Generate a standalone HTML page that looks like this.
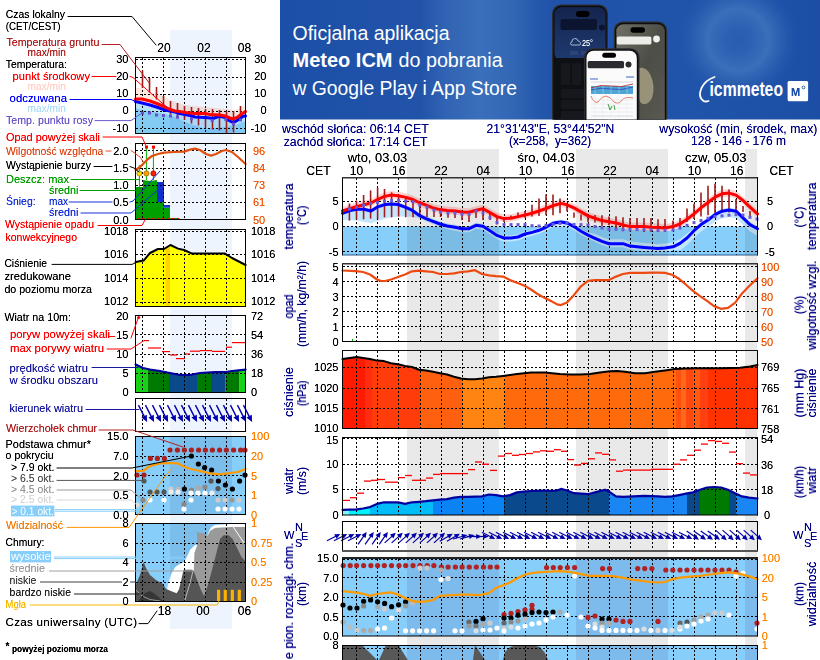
<!DOCTYPE html>
<html><head><meta charset="utf-8"><style>
html,body{margin:0;padding:0;background:#fff;}
svg{display:block;font-family:"Liberation Sans",sans-serif;}
</style></head><body>
<svg width="820" height="660" viewBox="0 0 820 660">
<rect width="820" height="660" fill="#ffffff"/>
<defs><filter id="sharp" x="-5%" y="-20%" width="110%" height="140%"><feComponentTransfer><feFuncA type="linear" slope="1.3" intercept="0"/></feComponentTransfer></filter></defs>
<rect x="170" y="30" width="62" height="599" fill="#eef4fd" />
<rect x="136" y="58" width="109" height="75" fill="#ffffff" />
<polygon points="135.5,88.0 142.0,88.0 150.0,92.0 158.0,94.0 165.0,97.0 170.0,100.0 185.0,105.0 205.0,107.0 225.0,109.0 235.0,110.0 245.5,106.0 245.5,118.5 241.0,121.5 237.0,124.5 233.0,126.0 230.0,125.0 225.0,123.0 220.0,122.0 210.0,121.5 205.0,120.5 195.0,120.5 185.0,119.5 180.0,118.5 175.0,118.0 170.0,116.5 165.0,114.0 158.0,111.0 150.0,108.0 142.0,106.0 135.5,106.0" fill="#fde6de" />
<polygon points="135.5,101.5 142.0,103.0 150.0,105.0 158.0,107.5 165.0,110.0 170.0,111.0 175.0,112.0 180.0,113.5 185.0,114.5 190.0,115.5 195.0,117.0 205.0,117.5 210.0,118.0 213.0,118.5 217.0,117.0 220.0,116.2 225.0,117.5 228.0,120.0 232.0,122.0 235.0,121.8 240.0,118.5 243.0,116.2 245.5,116.0 245.5,134.0 135.5,134.0" fill="#b8e2fa" />
<polygon points="135.5,108.0 142.0,110.0 150.0,111.0 160.0,113.0 165.0,114.0 175.0,117.0 185.0,122.0 195.0,125.5 205.0,128.5 215.0,128.0 225.0,127.0 235.0,125.0 245.5,121.0 245.5,134.0 135.5,134.0" fill="#84cbf4" />
<rect x="170" y="58" width="62" height="75" fill="#eef4fd" style="mix-blend-mode:multiply"/>
<line x1="136" y1="59.5" x2="245" y2="59.5" stroke="#000" stroke-width="1" stroke-dasharray="2,2" shape-rendering="crispEdges"/>
<line x1="136" y1="77.5" x2="245" y2="77.5" stroke="#000" stroke-width="1" stroke-dasharray="2,2" shape-rendering="crispEdges"/>
<line x1="136" y1="94.5" x2="245" y2="94.5" stroke="#000" stroke-width="1" stroke-dasharray="2,2" shape-rendering="crispEdges"/>
<line x1="136" y1="111.5" x2="245" y2="111.5" stroke="#000" stroke-width="1" stroke-dasharray="2,2" shape-rendering="crispEdges"/>
<line x1="136" y1="128.5" x2="245" y2="128.5" stroke="#000" stroke-width="1" stroke-dasharray="2,2" shape-rendering="crispEdges"/>
<line x1="142.5" y1="58" x2="142.5" y2="133" stroke="#000" stroke-width="1" stroke-dasharray="2,2" shape-rendering="crispEdges"/>
<line x1="163.5" y1="58" x2="163.5" y2="133" stroke="#000" stroke-width="1" stroke-dasharray="2,2" shape-rendering="crispEdges"/>
<line x1="184.5" y1="58" x2="184.5" y2="133" stroke="#000" stroke-width="1" stroke-dasharray="2,2" shape-rendering="crispEdges"/>
<line x1="205.5" y1="58" x2="205.5" y2="133" stroke="#000" stroke-width="1" stroke-dasharray="2,2" shape-rendering="crispEdges"/>
<line x1="226.5" y1="58" x2="226.5" y2="133" stroke="#000" stroke-width="1" stroke-dasharray="2,2" shape-rendering="crispEdges"/>
<line x1="142.5" y1="70.5" x2="142.5" y2="88" stroke="#a01c1c" stroke-width="1.6" />
<line x1="149.5" y1="78" x2="149.5" y2="92.5" stroke="#a01c1c" stroke-width="1.6" />
<line x1="156.5" y1="87" x2="156.5" y2="99.5" stroke="#a01c1c" stroke-width="1.6" />
<line x1="163.5" y1="96" x2="163.5" y2="106" stroke="#a01c1c" stroke-width="1.6" />
<line x1="170.5" y1="101" x2="170.5" y2="114.5" stroke="#a01c1c" stroke-width="1.6" />
<line x1="177.5" y1="103" x2="177.5" y2="118.5" stroke="#a01c1c" stroke-width="1.6" />
<line x1="184.5" y1="106" x2="184.5" y2="120" stroke="#a01c1c" stroke-width="1.6" />
<line x1="191.5" y1="107" x2="191.5" y2="123.5" stroke="#a01c1c" stroke-width="1.6" />
<line x1="198.5" y1="108" x2="198.5" y2="125.5" stroke="#a01c1c" stroke-width="1.6" />
<line x1="205.5" y1="109" x2="205.5" y2="127.5" stroke="#a01c1c" stroke-width="1.6" />
<line x1="212.5" y1="109" x2="212.5" y2="129.5" stroke="#a01c1c" stroke-width="1.6" />
<line x1="219.5" y1="110" x2="219.5" y2="130.5" stroke="#a01c1c" stroke-width="1.6" />
<line x1="226.5" y1="111" x2="226.5" y2="133" stroke="#a01c1c" stroke-width="1.6" />
<line x1="233.5" y1="111" x2="233.5" y2="132.5" stroke="#a01c1c" stroke-width="1.6" />
<line x1="240.5" y1="106" x2="240.5" y2="120" stroke="#a01c1c" stroke-width="1.6" />
<polyline points="135.5,101.5 142.0,103.0 150.0,105.0 158.0,107.5 165.0,110.0 170.0,111.0 175.0,112.0 180.0,113.5 185.0,114.5 190.0,115.5 195.0,117.0 205.0,117.5 210.0,118.0 213.0,118.5 217.0,117.0 220.0,116.2 225.0,117.5 228.0,120.0 232.0,122.0 235.0,121.8 240.0,118.5 243.0,116.2 245.5,116.0" stroke="#0000ff" stroke-width="3" fill="none" stroke-linejoin="round" stroke-linecap="round" />
<polyline points="135.5,99.0 142.0,99.0 150.0,101.0 158.0,104.0 165.0,107.0 170.0,109.5 175.0,111.0 180.0,111.5 185.0,112.5 195.0,113.5 205.0,113.5 210.0,114.5 220.0,115.0 225.0,116.0 230.0,118.0 233.0,119.0 237.0,117.5 241.0,114.5 245.5,111.5" stroke="#ff0000" stroke-width="3" fill="none" stroke-linejoin="round" stroke-linecap="round" />
<rect x="141.0" y="111.5" width="3" height="3" fill="#6a50d0" />
<rect x="148.0" y="111.5" width="3" height="3" fill="#6a50d0" />
<rect x="155.0" y="113.5" width="3" height="3" fill="#6a50d0" />
<rect x="162.0" y="114.0" width="3" height="3" fill="#6a50d0" />
<rect x="169.0" y="114.5" width="3" height="3" fill="#6a50d0" />
<rect x="176.0" y="115.5" width="3" height="3" fill="#6a50d0" />
<rect x="190.0" y="117.3" width="3" height="3" fill="#6a50d0" />
<rect x="210.7" y="119.0" width="3" height="3" fill="#6a50d0" />
<rect x="224.4" y="118.1" width="3" height="3" fill="#6a50d0" />
<rect x="232.0" y="122.5" width="3" height="3" fill="#6a50d0" />
<rect x="239.0" y="118.5" width="3" height="3" fill="#6a50d0" />
<rect x="135.5" y="57.5" width="110" height="76" fill="none" stroke="#000" stroke-width="1" shape-rendering="crispEdges"/>
<polygon points="135.6,187.0 143.0,187.0 143.0,180.0 150.0,181.0 157.0,180.0 157.0,202.0 164.0,202.0 164.0,207.6 170.0,207.6 170.0,218.0 177.0,218.0 177.0,219.6 135.6,219.6" fill="#00a000" />
<rect x="157" y="182" width="7" height="20" fill="#1030d0" />
<rect x="164" y="205" width="6" height="2.6" fill="#1030d0" />
<line x1="136" y1="150.5" x2="245" y2="150.5" stroke="#000" stroke-width="1" stroke-dasharray="2,2" shape-rendering="crispEdges"/>
<line x1="136" y1="168.5" x2="245" y2="168.5" stroke="#000" stroke-width="1" stroke-dasharray="2,2" shape-rendering="crispEdges"/>
<line x1="136" y1="185.5" x2="245" y2="185.5" stroke="#000" stroke-width="1" stroke-dasharray="2,2" shape-rendering="crispEdges"/>
<line x1="136" y1="202.5" x2="245" y2="202.5" stroke="#000" stroke-width="1" stroke-dasharray="2,2" shape-rendering="crispEdges"/>
<line x1="142.5" y1="144" x2="142.5" y2="219" stroke="#000" stroke-width="1" stroke-dasharray="2,2" shape-rendering="crispEdges"/>
<line x1="163.5" y1="144" x2="163.5" y2="219" stroke="#000" stroke-width="1" stroke-dasharray="2,2" shape-rendering="crispEdges"/>
<line x1="184.5" y1="144" x2="184.5" y2="219" stroke="#000" stroke-width="1" stroke-dasharray="2,2" shape-rendering="crispEdges"/>
<line x1="205.5" y1="144" x2="205.5" y2="219" stroke="#000" stroke-width="1" stroke-dasharray="2,2" shape-rendering="crispEdges"/>
<line x1="226.5" y1="144" x2="226.5" y2="219" stroke="#000" stroke-width="1" stroke-dasharray="2,2" shape-rendering="crispEdges"/>
<line x1="139.4" y1="165" x2="139.4" y2="187" stroke="#00b000" stroke-width="1" />
<line x1="146.4" y1="148" x2="146.4" y2="180" stroke="#00b000" stroke-width="1" />
<line x1="153.4" y1="148" x2="153.4" y2="180" stroke="#00b000" stroke-width="1" />
<polyline points="135.6,170.0 140.0,167.0 144.0,163.0 148.0,159.0 152.0,156.0 158.0,154.0 164.0,152.6 174.0,152.0 184.0,151.6 190.0,149.6 195.0,148.6 200.0,150.0 206.0,154.0 211.0,155.6 216.0,154.0 222.0,151.0 226.0,150.0 232.0,152.0 238.0,157.0 245.6,164.0" stroke="#e05010" stroke-width="2.2" fill="none" stroke-linejoin="round" stroke-linecap="round" />
<circle cx="139.4" cy="173.4" r="2.6" fill="#ffe000" stroke="#806000" stroke-width="0.6"/>
<circle cx="146.4" cy="173.4" r="2.6" fill="#ffa000" stroke="#806000" stroke-width="0.6"/>
<circle cx="153.4" cy="173.4" r="2.6" fill="#ff2000" stroke="#800000" stroke-width="0.6"/>
<rect x="145" y="145.6" width="3" height="3" fill="#ff0000" />
<rect x="152" y="145.6" width="3" height="3" fill="#ff0000" />
<line x1="137" y1="218.5" x2="139.5" y2="218.5" stroke="#ff0000" stroke-width="1.2" />
<line x1="142" y1="218.5" x2="144.5" y2="218.5" stroke="#ff0000" stroke-width="1.2" />
<line x1="147" y1="218.5" x2="149.5" y2="218.5" stroke="#ff0000" stroke-width="1.2" />
<line x1="152" y1="218.5" x2="154.5" y2="218.5" stroke="#ff0000" stroke-width="1.2" />
<line x1="157" y1="218.5" x2="159.5" y2="218.5" stroke="#ff0000" stroke-width="1.2" />
<line x1="162" y1="218.5" x2="164.5" y2="218.5" stroke="#ff0000" stroke-width="1.2" />
<line x1="167" y1="218.5" x2="169.5" y2="218.5" stroke="#ff0000" stroke-width="1.2" />
<line x1="172" y1="218.5" x2="174.5" y2="218.5" stroke="#ff0000" stroke-width="1.2" />
<line x1="177" y1="218.5" x2="179.5" y2="218.5" stroke="#ff0000" stroke-width="1.2" />
<rect x="135.5" y="143.5" width="110" height="76" fill="none" stroke="#000" stroke-width="1" shape-rendering="crispEdges"/>
<polygon points="135.6,262.0 143.6,260.6 150.0,253.0 158.0,249.0 164.0,249.0 170.4,245.0 178.0,248.6 184.0,250.0 192.0,253.6 225.0,253.6 232.0,258.0 245.6,265.0 245.6,306.0 135.6,306.0" fill="#ffff00" />
<rect x="165.5" y="247" width="4.5" height="59" fill="#ffd400" />
<line x1="136" y1="231.5" x2="245" y2="231.5" stroke="#000" stroke-width="1" stroke-dasharray="2,2" shape-rendering="crispEdges"/>
<line x1="136" y1="254.5" x2="245" y2="254.5" stroke="#000" stroke-width="1" stroke-dasharray="2,2" shape-rendering="crispEdges"/>
<line x1="136" y1="278.5" x2="245" y2="278.5" stroke="#000" stroke-width="1" stroke-dasharray="2,2" shape-rendering="crispEdges"/>
<line x1="136" y1="302.5" x2="245" y2="302.5" stroke="#000" stroke-width="1" stroke-dasharray="2,2" shape-rendering="crispEdges"/>
<line x1="142.5" y1="230" x2="142.5" y2="306" stroke="#000" stroke-width="1" stroke-dasharray="2,2" shape-rendering="crispEdges"/>
<line x1="163.5" y1="230" x2="163.5" y2="306" stroke="#000" stroke-width="1" stroke-dasharray="2,2" shape-rendering="crispEdges"/>
<line x1="184.5" y1="230" x2="184.5" y2="306" stroke="#000" stroke-width="1" stroke-dasharray="2,2" shape-rendering="crispEdges"/>
<line x1="205.5" y1="230" x2="205.5" y2="306" stroke="#000" stroke-width="1" stroke-dasharray="2,2" shape-rendering="crispEdges"/>
<line x1="226.5" y1="230" x2="226.5" y2="306" stroke="#000" stroke-width="1" stroke-dasharray="2,2" shape-rendering="crispEdges"/>
<polyline points="135.6,262.0 143.6,260.6 150.0,253.0 158.0,249.0 164.0,249.0 170.4,245.0 178.0,248.6 184.0,250.0 192.0,253.6 225.0,253.6 232.0,258.0 245.6,265.0" stroke="#000" stroke-width="2" fill="none" stroke-linejoin="round" stroke-linecap="round" />
<rect x="135.5" y="229.5" width="110" height="77" fill="none" stroke="#000" stroke-width="1" shape-rendering="crispEdges"/>
<polygon points="135.6,364.4 143.0,368.0 148.0,369.1 148.0,392.0 135.6,392.0" fill="#18d018" />
<polygon points="148.0,369.1 150.0,369.5 160.0,371.0 169.0,372.8 169.0,392.0 148.0,392.0" fill="#007a00" />
<polygon points="169.0,372.8 170.0,373.0 180.0,375.0 190.0,375.0 197.0,373.6 197.0,392.0 169.0,392.0" fill="#0a4a8a" />
<polygon points="197.0,373.6 200.0,373.0 211.0,372.3 211.0,392.0 197.0,392.0" fill="#007a00" />
<polygon points="211.0,372.3 215.0,372.0 225.6,372.0 225.6,392.0 211.0,392.0" fill="#0a4a8a" />
<polygon points="225.6,372.0 226.0,372.0 232.0,371.0 239.6,370.2 239.6,392.0 225.6,392.0" fill="#007a00" />
<polygon points="239.6,370.2 245.6,369.6 245.6,392.0 239.6,392.0" fill="#18d018" />
<line x1="136" y1="334.5" x2="245" y2="334.5" stroke="#000" stroke-width="1" stroke-dasharray="2,2" shape-rendering="crispEdges"/>
<line x1="136" y1="354.5" x2="245" y2="354.5" stroke="#000" stroke-width="1" stroke-dasharray="2,2" shape-rendering="crispEdges"/>
<line x1="136" y1="373.5" x2="245" y2="373.5" stroke="#000" stroke-width="1" stroke-dasharray="2,2" shape-rendering="crispEdges"/>
<line x1="142.5" y1="316" x2="142.5" y2="392" stroke="#000" stroke-width="1" stroke-dasharray="2,2" shape-rendering="crispEdges"/>
<line x1="163.5" y1="316" x2="163.5" y2="392" stroke="#000" stroke-width="1" stroke-dasharray="2,2" shape-rendering="crispEdges"/>
<line x1="184.5" y1="316" x2="184.5" y2="392" stroke="#000" stroke-width="1" stroke-dasharray="2,2" shape-rendering="crispEdges"/>
<line x1="205.5" y1="316" x2="205.5" y2="392" stroke="#000" stroke-width="1" stroke-dasharray="2,2" shape-rendering="crispEdges"/>
<line x1="226.5" y1="316" x2="226.5" y2="392" stroke="#000" stroke-width="1" stroke-dasharray="2,2" shape-rendering="crispEdges"/>
<polyline points="135.6,364.4 143.0,368.0 150.0,369.5 160.0,371.0 170.0,373.0 180.0,375.0 190.0,375.0 200.0,373.0 215.0,372.0 226.0,372.0 232.0,371.0 245.6,369.6" stroke="#0000a0" stroke-width="2.2" fill="none" stroke-linejoin="round" stroke-linecap="round" />
<line x1="144" y1="340.6" x2="149" y2="340.6" stroke="#ff0000" stroke-width="1.2" />
<line x1="148" y1="348" x2="161" y2="348" stroke="#ff0000" stroke-width="1.2" />
<line x1="162" y1="351.6" x2="170" y2="351.6" stroke="#ff0000" stroke-width="1.2" />
<line x1="170" y1="355" x2="177" y2="355" stroke="#ff0000" stroke-width="1.2" />
<line x1="176" y1="358.6" x2="185" y2="358.6" stroke="#ff0000" stroke-width="1.2" />
<line x1="185" y1="354" x2="190" y2="354" stroke="#ff0000" stroke-width="1.2" />
<line x1="190" y1="351.2" x2="200" y2="351.2" stroke="#ff0000" stroke-width="1.2" />
<line x1="200" y1="350.6" x2="212" y2="350.6" stroke="#ff0000" stroke-width="1.2" />
<line x1="212" y1="351.4" x2="225" y2="351.4" stroke="#ff0000" stroke-width="1.2" />
<line x1="226" y1="347.2" x2="232" y2="347.2" stroke="#ff0000" stroke-width="1.2" />
<line x1="232" y1="342.6" x2="245.6" y2="342.6" stroke="#ff0000" stroke-width="1.2" />
<rect x="135.5" y="315.5" width="110" height="77" fill="none" stroke="#000" stroke-width="1" shape-rendering="crispEdges"/>
<line x1="142.5" y1="399" x2="142.5" y2="431" stroke="#000" stroke-width="1" stroke-dasharray="2,2" shape-rendering="crispEdges"/>
<line x1="163.5" y1="399" x2="163.5" y2="431" stroke="#000" stroke-width="1" stroke-dasharray="2,2" shape-rendering="crispEdges"/>
<line x1="184.5" y1="399" x2="184.5" y2="431" stroke="#000" stroke-width="1" stroke-dasharray="2,2" shape-rendering="crispEdges"/>
<line x1="205.5" y1="399" x2="205.5" y2="431" stroke="#000" stroke-width="1" stroke-dasharray="2,2" shape-rendering="crispEdges"/>
<line x1="226.5" y1="399" x2="226.5" y2="431" stroke="#000" stroke-width="1" stroke-dasharray="2,2" shape-rendering="crispEdges"/>
<g transform="translate(143,414) rotate(63)"><line x1="-10" y1="0" x2="4" y2="0" stroke="#0000b0" stroke-width="1.4"/><polygon points="9,0 2.5,-3 2.5,3" fill="#0000b0"/></g>
<g transform="translate(150,414) rotate(63)"><line x1="-10" y1="0" x2="4" y2="0" stroke="#0000b0" stroke-width="1.4"/><polygon points="9,0 2.5,-3 2.5,3" fill="#0000b0"/></g>
<g transform="translate(157,414) rotate(63)"><line x1="-10" y1="0" x2="4" y2="0" stroke="#0000b0" stroke-width="1.4"/><polygon points="9,0 2.5,-3 2.5,3" fill="#0000b0"/></g>
<g transform="translate(164,414) rotate(63)"><line x1="-10" y1="0" x2="4" y2="0" stroke="#0000b0" stroke-width="1.4"/><polygon points="9,0 2.5,-3 2.5,3" fill="#0000b0"/></g>
<g transform="translate(172,414) rotate(63)"><line x1="-10" y1="0" x2="4" y2="0" stroke="#0000b0" stroke-width="1.4"/><polygon points="9,0 2.5,-3 2.5,3" fill="#0000b0"/></g>
<g transform="translate(179,414) rotate(63)"><line x1="-10" y1="0" x2="4" y2="0" stroke="#0000b0" stroke-width="1.4"/><polygon points="9,0 2.5,-3 2.5,3" fill="#0000b0"/></g>
<g transform="translate(186,414) rotate(63)"><line x1="-10" y1="0" x2="4" y2="0" stroke="#0000b0" stroke-width="1.4"/><polygon points="9,0 2.5,-3 2.5,3" fill="#0000b0"/></g>
<g transform="translate(193,414) rotate(63)"><line x1="-10" y1="0" x2="4" y2="0" stroke="#0000b0" stroke-width="1.4"/><polygon points="9,0 2.5,-3 2.5,3" fill="#0000b0"/></g>
<g transform="translate(200,414) rotate(63)"><line x1="-10" y1="0" x2="4" y2="0" stroke="#0000b0" stroke-width="1.4"/><polygon points="9,0 2.5,-3 2.5,3" fill="#0000b0"/></g>
<g transform="translate(207,414) rotate(63)"><line x1="-10" y1="0" x2="4" y2="0" stroke="#0000b0" stroke-width="1.4"/><polygon points="9,0 2.5,-3 2.5,3" fill="#0000b0"/></g>
<g transform="translate(214,414) rotate(63)"><line x1="-10" y1="0" x2="4" y2="0" stroke="#0000b0" stroke-width="1.4"/><polygon points="9,0 2.5,-3 2.5,3" fill="#0000b0"/></g>
<g transform="translate(221,414) rotate(63)"><line x1="-10" y1="0" x2="4" y2="0" stroke="#0000b0" stroke-width="1.4"/><polygon points="9,0 2.5,-3 2.5,3" fill="#0000b0"/></g>
<g transform="translate(228,414) rotate(63)"><line x1="-10" y1="0" x2="4" y2="0" stroke="#0000b0" stroke-width="1.4"/><polygon points="9,0 2.5,-3 2.5,3" fill="#0000b0"/></g>
<g transform="translate(235,414) rotate(63)"><line x1="-10" y1="0" x2="4" y2="0" stroke="#0000b0" stroke-width="1.4"/><polygon points="9,0 2.5,-3 2.5,3" fill="#0000b0"/></g>
<g transform="translate(242,414) rotate(63)"><line x1="-10" y1="0" x2="4" y2="0" stroke="#0000b0" stroke-width="1.4"/><polygon points="9,0 2.5,-3 2.5,3" fill="#0000b0"/></g>
<g transform="translate(248,414) rotate(63)"><line x1="-10" y1="0" x2="4" y2="0" stroke="#0000b0" stroke-width="1.4"/><polygon points="9,0 2.5,-3 2.5,3" fill="#0000b0"/></g>
<rect x="135.5" y="398.5" width="110" height="33" fill="none" stroke="#000" stroke-width="1" shape-rendering="crispEdges"/>
<rect x="136" y="437" width="109" height="77" fill="#87cefa" />
<rect x="170" y="437" width="62" height="77" fill="#eaebf0" style="mix-blend-mode:multiply"/>
<line x1="136" y1="456.5" x2="245" y2="456.5" stroke="#000" stroke-width="1" stroke-dasharray="2,2" shape-rendering="crispEdges"/>
<line x1="136" y1="475.5" x2="245" y2="475.5" stroke="#000" stroke-width="1" stroke-dasharray="2,2" shape-rendering="crispEdges"/>
<line x1="136" y1="495.5" x2="245" y2="495.5" stroke="#000" stroke-width="1" stroke-dasharray="2,2" shape-rendering="crispEdges"/>
<line x1="142.5" y1="437" x2="142.5" y2="514" stroke="#000" stroke-width="1" stroke-dasharray="2,2" shape-rendering="crispEdges"/>
<line x1="163.5" y1="437" x2="163.5" y2="514" stroke="#000" stroke-width="1" stroke-dasharray="2,2" shape-rendering="crispEdges"/>
<line x1="184.5" y1="437" x2="184.5" y2="514" stroke="#000" stroke-width="1" stroke-dasharray="2,2" shape-rendering="crispEdges"/>
<line x1="205.5" y1="437" x2="205.5" y2="514" stroke="#000" stroke-width="1" stroke-dasharray="2,2" shape-rendering="crispEdges"/>
<line x1="226.5" y1="437" x2="226.5" y2="514" stroke="#000" stroke-width="1" stroke-dasharray="2,2" shape-rendering="crispEdges"/>
<circle cx="170.0" cy="450.0" r="2.6" fill="#a82020" />
<circle cx="177.4" cy="450.0" r="2.6" fill="#a82020" />
<circle cx="184.4" cy="450.0" r="2.6" fill="#a82020" />
<circle cx="191.4" cy="450.0" r="2.6" fill="#a82020" />
<circle cx="198.6" cy="450.0" r="2.6" fill="#a82020" />
<circle cx="205.4" cy="450.0" r="2.6" fill="#a82020" />
<circle cx="212.4" cy="450.0" r="2.6" fill="#a82020" />
<circle cx="219.6" cy="450.0" r="2.6" fill="#a82020" />
<circle cx="226.4" cy="450.0" r="2.6" fill="#a82020" />
<circle cx="233.6" cy="450.0" r="2.6" fill="#a82020" />
<circle cx="240.6" cy="450.0" r="2.6" fill="#a82020" />
<circle cx="245.0" cy="450.0" r="2.6" fill="#a82020" />
<circle cx="150.4" cy="458.4" r="2.6" fill="#a82020" />
<circle cx="157.4" cy="458.4" r="2.6" fill="#a82020" />
<circle cx="164.4" cy="458.4" r="2.6" fill="#a82020" />
<circle cx="137.0" cy="475.0" r="2.6" fill="#a82020" />
<circle cx="144.0" cy="475.0" r="2.6" fill="#a82020" />
<circle cx="191.4" cy="456.0" r="2.6" fill="#000" />
<circle cx="198.4" cy="464.0" r="2.6" fill="#000" />
<circle cx="204.6" cy="467.6" r="2.6" fill="#000" />
<circle cx="211.6" cy="470.0" r="2.6" fill="#000" />
<circle cx="218.4" cy="481.0" r="2.6" fill="#000" />
<circle cx="225.4" cy="485.0" r="2.6" fill="#000" />
<circle cx="232.4" cy="489.0" r="2.6" fill="#000" />
<circle cx="239.6" cy="481.0" r="2.6" fill="#000" />
<circle cx="245.0" cy="475.0" r="2.6" fill="#000" />
<circle cx="144.0" cy="481.0" r="2.6" fill="#555" />
<circle cx="150.0" cy="492.0" r="2.6" fill="#555" />
<circle cx="157.0" cy="492.0" r="2.6" fill="#555" />
<circle cx="164.0" cy="492.0" r="2.6" fill="#555" />
<circle cx="171.0" cy="489.0" r="2.6" fill="#ccc" />
<circle cx="178.0" cy="489.0" r="2.6" fill="#bbb" />
<circle cx="184.4" cy="489.0" r="2.6" fill="#000" />
<circle cx="191.5" cy="490.0" r="2.6" fill="#888" />
<circle cx="198.5" cy="488.0" r="2.6" fill="#aaa" />
<circle cx="205.0" cy="487.0" r="2.6" fill="#888" />
<circle cx="211.0" cy="481.0" r="2.6" fill="#555" />
<circle cx="218.0" cy="488.6" r="2.6" fill="#555" />
<circle cx="171.0" cy="492.0" r="2.6" fill="#eee" />
<circle cx="178.0" cy="492.0" r="2.6" fill="#eee" />
<circle cx="191.0" cy="493.0" r="2.6" fill="#fff" />
<circle cx="198.0" cy="493.0" r="2.6" fill="#fff" />
<circle cx="205.0" cy="493.0" r="2.6" fill="#fff" />
<circle cx="212.0" cy="493.0" r="2.6" fill="#eee" />
<circle cx="150.0" cy="500.0" r="2.6" fill="#fff" />
<circle cx="164.0" cy="500.0" r="2.6" fill="#fff" />
<circle cx="191.0" cy="500.0" r="2.6" fill="#fff" />
<circle cx="184.0" cy="504.0" r="2.6" fill="#888" />
<circle cx="184.0" cy="509.0" r="2.6" fill="#fff" />
<circle cx="218.0" cy="500.0" r="2.6" fill="#ccc" />
<circle cx="225.0" cy="500.0" r="2.6" fill="#ccc" />
<circle cx="232.0" cy="500.0" r="2.6" fill="#999" />
<circle cx="239.0" cy="500.0" r="2.6" fill="#ccc" />
<circle cx="218.0" cy="509.0" r="2.6" fill="#fff" />
<circle cx="225.0" cy="509.0" r="2.6" fill="#fff" />
<circle cx="232.0" cy="509.0" r="2.6" fill="#fff" />
<circle cx="239.0" cy="509.0" r="2.6" fill="#fff" />
<circle cx="137.0" cy="505.0" r="2.6" fill="#ddd" />
<circle cx="143.0" cy="500.0" r="2.6" fill="#888" />
<polyline points="135.6,471.0 143.0,471.0 150.0,466.0 160.0,463.4 170.0,463.0 178.0,463.4 185.0,467.0 191.0,469.0 200.0,471.0 210.0,473.4 220.0,474.4 230.0,473.0 238.0,472.0 245.6,469.0" stroke="#ff9900" stroke-width="2.2" fill="none" stroke-linejoin="round" stroke-linecap="round" />
<rect x="135.5" y="436.5" width="110" height="78" fill="none" stroke="#000" stroke-width="1" shape-rendering="crispEdges"/>
<rect x="136" y="524" width="109" height="77" fill="#87cefa" />
<rect x="170" y="524" width="62" height="77" fill="#eaebf0" style="mix-blend-mode:multiply"/>
<polygon points="165.7,601.0 167.6,586.0 171.5,573.5 175.3,567.0 179.0,564.6 184.0,562.0 186.8,557.0 190.0,550.0 194.4,545.5 198.2,544.2 203.3,543.6 206.5,539.0 208.4,532.7 211.0,527.6 214.8,525.0 221.0,524.5 231.3,524.0 245.0,524.0 245.0,601.0" fill="#ffffff" />
<polygon points="190.0,601.0 192.0,585.0 193.8,571.0 194.4,553.0 197.0,546.0 197.0,531.5 200.0,533.0 204.0,533.5 207.5,536.0 210.0,531.0 214.8,528.0 221.0,527.5 231.3,527.0 245.0,527.0 245.0,601.0" fill="#9a9a9a" />
<polygon points="135.6,585.0 140.0,575.0 143.6,562.0 146.0,568.0 150.0,575.0 156.0,580.0 163.0,584.0 165.7,588.8 170.2,590.7 176.6,593.2 179.0,589.4 183.6,569.7 191.8,569.7 193.8,571.0 197.0,580.0 201.0,590.0 204.0,596.0 208.0,585.0 212.0,570.0 216.0,554.4 220.0,539.0 223.7,535.3 228.8,535.3 232.6,539.0 237.7,549.3 241.5,557.0 245.0,560.8 245.0,601.0 135.6,601.0" fill="#555555" />
<polygon points="138.0,601.0 145.0,593.0 150.0,591.0 155.0,594.0 163.0,601.0" fill="#363636" />
<polyline points="136.0,590.0 142.0,596.0 150.0,599.5 160.0,601.0" stroke="#b0b0b0" stroke-width="0.8" fill="none" stroke-linejoin="round" stroke-linecap="round" />
<polyline points="184.8,600.5 190.0,583.0 193.0,571.0" stroke="#cfcfcf" stroke-width="0.8" fill="none" stroke-linejoin="round" stroke-linecap="round" />
<polyline points="231.3,524.0 236.0,531.0 240.0,537.0 244.5,543.6" stroke="#ffffff" stroke-width="1" fill="none" stroke-linejoin="round" stroke-linecap="round" />
<line x1="136" y1="543.5" x2="245" y2="543.5" stroke="#000" stroke-width="1" stroke-dasharray="2,2" shape-rendering="crispEdges"/>
<line x1="136" y1="562.5" x2="245" y2="562.5" stroke="#000" stroke-width="1" stroke-dasharray="2,2" shape-rendering="crispEdges"/>
<line x1="136" y1="582.5" x2="245" y2="582.5" stroke="#000" stroke-width="1" stroke-dasharray="2,2" shape-rendering="crispEdges"/>
<line x1="142.5" y1="524" x2="142.5" y2="601" stroke="#000" stroke-width="1" stroke-dasharray="2,2" shape-rendering="crispEdges"/>
<line x1="163.5" y1="524" x2="163.5" y2="601" stroke="#000" stroke-width="1" stroke-dasharray="2,2" shape-rendering="crispEdges"/>
<line x1="184.5" y1="524" x2="184.5" y2="601" stroke="#000" stroke-width="1" stroke-dasharray="2,2" shape-rendering="crispEdges"/>
<line x1="205.5" y1="524" x2="205.5" y2="601" stroke="#000" stroke-width="1" stroke-dasharray="2,2" shape-rendering="crispEdges"/>
<line x1="226.5" y1="524" x2="226.5" y2="601" stroke="#000" stroke-width="1" stroke-dasharray="2,2" shape-rendering="crispEdges"/>
<rect x="217" y="589.8" width="3.2" height="11.2" fill="#f8b400" />
<rect x="223.7" y="589.8" width="3.2" height="11.2" fill="#f8b400" />
<rect x="230.7" y="589.8" width="3.2" height="11.2" fill="#f8b400" />
<rect x="237.7" y="589.8" width="3.2" height="11.2" fill="#f8b400" />
<rect x="135.5" y="523.5" width="110" height="78" fill="none" stroke="#000" stroke-width="1" shape-rendering="crispEdges"/>
<rect x="11" y="505.6" width="43.4" height="10.8" fill="#87cefa" />
<rect x="10" y="551" width="41" height="11.4" fill="#87cefa" />
<text filter="url(#sharp)" x="5.8" y="18" font-size="11" textLength="59.2" lengthAdjust="spacingAndGlyphs">Czas lokalny</text>
<text filter="url(#sharp)" x="5.8" y="29.5" font-size="11" textLength="54.7" lengthAdjust="spacingAndGlyphs">(CET/CEST)</text>
<text filter="url(#sharp)" x="6.5" y="45.5" font-size="11" fill="#b22222" textLength="92.9" lengthAdjust="spacingAndGlyphs">Temperatura gruntu</text>
<text filter="url(#sharp)" x="27.5" y="55.5" font-size="11" fill="#b22222" textLength="38.5" lengthAdjust="spacingAndGlyphs">max/min</text>
<text filter="url(#sharp)" x="5.8" y="67.5" font-size="11" textLength="61.2" lengthAdjust="spacingAndGlyphs">Temperatura:</text>
<text filter="url(#sharp)" x="12.6" y="79.5" font-size="11" fill="#ff0000" textLength="77.4" lengthAdjust="spacingAndGlyphs">punkt środkowy</text>
<text filter="url(#sharp)" x="27.6" y="90" font-size="11" fill="#ffd2c8" textLength="38.4" lengthAdjust="spacingAndGlyphs">max/min</text>
<text filter="url(#sharp)" x="9.6" y="101.5" font-size="11" fill="#0000ff" textLength="57.4" lengthAdjust="spacingAndGlyphs">odczuwana</text>
<text filter="url(#sharp)" x="27.6" y="111.5" font-size="11" fill="#b0def8" textLength="38.4" lengthAdjust="spacingAndGlyphs">max/min</text>
<text filter="url(#sharp)" x="6" y="123.5" font-size="11" fill="#6a5acd" textLength="87" lengthAdjust="spacingAndGlyphs">Temp. punktu rosy</text>
<text filter="url(#sharp)" x="6" y="141" font-size="11" fill="#ff0000" textLength="94" lengthAdjust="spacingAndGlyphs">Opad powyżej skali</text>
<text filter="url(#sharp)" x="6" y="155" font-size="11" fill="#e05020" textLength="97.4" lengthAdjust="spacingAndGlyphs">Wilgotność względna</text>
<text filter="url(#sharp)" x="6" y="169" font-size="11" textLength="85" lengthAdjust="spacingAndGlyphs">Wystąpienie burzy</text>
<text filter="url(#sharp)" x="6" y="183" font-size="11" fill="#00a000" textLength="63" lengthAdjust="spacingAndGlyphs">Deszcz: max</text>
<text filter="url(#sharp)" x="49" y="193.5" font-size="11" fill="#00a000" textLength="29.4" lengthAdjust="spacingAndGlyphs">średni</text>
<text filter="url(#sharp)" x="6" y="204.5" font-size="11" fill="#1830d8" textLength="29.6" lengthAdjust="spacingAndGlyphs">Śnieg:</text>
<text filter="url(#sharp)" x="49" y="204.5" font-size="11" fill="#1830d8" textLength="19" lengthAdjust="spacingAndGlyphs">max</text>
<text filter="url(#sharp)" x="49" y="215.5" font-size="11" fill="#1830d8" textLength="29.4" lengthAdjust="spacingAndGlyphs">średni</text>
<text filter="url(#sharp)" x="5" y="227.5" font-size="11" fill="#ff0000" textLength="89" lengthAdjust="spacingAndGlyphs">Wystąpienie opadu</text>
<text filter="url(#sharp)" x="5.6" y="240.5" font-size="11" fill="#ff0000" textLength="71.4" lengthAdjust="spacingAndGlyphs">konwekcyjnego</text>
<text filter="url(#sharp)" x="4.4" y="267" font-size="11" textLength="42.6" lengthAdjust="spacingAndGlyphs">Ciśnienie</text>
<text filter="url(#sharp)" x="4.4" y="280" font-size="11" textLength="66.6" lengthAdjust="spacingAndGlyphs">zredukowane</text>
<text filter="url(#sharp)" x="4.4" y="293" font-size="11" textLength="87.6" lengthAdjust="spacingAndGlyphs">do poziomu morza</text>
<text filter="url(#sharp)" x="4.4" y="321" font-size="11" textLength="66.6" lengthAdjust="spacingAndGlyphs">Wiatr na 10m:</text>
<text filter="url(#sharp)" x="10" y="338" font-size="11" fill="#ff0000" textLength="100" lengthAdjust="spacingAndGlyphs">poryw powyżej skali</text>
<text filter="url(#sharp)" x="10" y="352" font-size="11" fill="#ff0000" textLength="94" lengthAdjust="spacingAndGlyphs">max porywy wiatru</text>
<text filter="url(#sharp)" x="9.6" y="371.5" font-size="11" fill="#1a1aa0" textLength="78.4" lengthAdjust="spacingAndGlyphs">prędkość wiatru</text>
<text filter="url(#sharp)" x="9.6" y="384" font-size="11" fill="#1a1aa0" textLength="88.4" lengthAdjust="spacingAndGlyphs">w środku obszaru</text>
<text filter="url(#sharp)" x="9.6" y="411.5" font-size="11" fill="#1a1aa0" textLength="73.4" lengthAdjust="spacingAndGlyphs">kierunek wiatru</text>
<text filter="url(#sharp)" x="6" y="432" font-size="11" fill="#b22222" textLength="91" lengthAdjust="spacingAndGlyphs">Wierzchołek chmur</text>
<text filter="url(#sharp)" x="5.6" y="447.5" font-size="11" textLength="85.4" lengthAdjust="spacingAndGlyphs">Podstawa chmur*</text>
<text filter="url(#sharp)" x="5.6" y="458.5" font-size="11" textLength="48" lengthAdjust="spacingAndGlyphs">o pokryciu</text>
<text filter="url(#sharp)" x="11" y="471" font-size="11" textLength="43.4" lengthAdjust="spacingAndGlyphs">&gt; 7.9 okt.</text>
<text filter="url(#sharp)" x="11" y="482" font-size="11" fill="#555" textLength="43.4" lengthAdjust="spacingAndGlyphs">&gt; 6.5 okt.</text>
<text filter="url(#sharp)" x="11" y="493" font-size="11" fill="#999" textLength="43.4" lengthAdjust="spacingAndGlyphs">&gt; 4.5 okt.</text>
<text filter="url(#sharp)" x="11" y="503" font-size="11" fill="#d8d8d8" textLength="43.4" lengthAdjust="spacingAndGlyphs">&gt; 2.5 okt.</text>
<text filter="url(#sharp)" x="6" y="529" font-size="11" fill="#f08010" textLength="57" lengthAdjust="spacingAndGlyphs">Widzialność</text>
<text filter="url(#sharp)" x="5.6" y="546" font-size="11" textLength="38.8" lengthAdjust="spacingAndGlyphs">Chmury:</text>
<text filter="url(#sharp)" x="9.6" y="572" font-size="11" fill="#a0a0a0" textLength="35.4" lengthAdjust="spacingAndGlyphs">średnie</text>
<text filter="url(#sharp)" x="9.6" y="584" font-size="11" fill="#404040" textLength="26.8" lengthAdjust="spacingAndGlyphs">niskie</text>
<text filter="url(#sharp)" x="9.6" y="596" font-size="11" fill="#202020" textLength="61.4" lengthAdjust="spacingAndGlyphs">bardzo niskie</text>
<text filter="url(#sharp)" x="5.6" y="608" font-size="11" fill="#f8b800" textLength="20.4" lengthAdjust="spacingAndGlyphs">Mgła</text>
<text x="11.5" y="514.5" font-size="11" fill="#fff" textLength="42.4" lengthAdjust="spacingAndGlyphs">&gt; 0.1 okt.</text>
<text x="11" y="560" font-size="11" fill="#fff" textLength="39.6" lengthAdjust="spacingAndGlyphs">wysokie</text>
<text filter="url(#sharp)" x="5.6" y="626" font-size="11.6" textLength="131.4" lengthAdjust="spacing">Czas uniwersalny (UTC)</text>
<text filter="url(#sharp)" x="5.6" y="650" font-size="10" font-weight="bold">*</text>
<text filter="url(#sharp)" x="12" y="651.5" font-size="9.2" textLength="96" lengthAdjust="spacingAndGlyphs" font-weight="bold">powyżej poziomu morza</text>
<polyline points="68.0,16.5 132.0,16.5 156.0,45.0" stroke="#000" stroke-width="1" fill="none" stroke-linejoin="round" stroke-linecap="round" />
<polyline points="102.0,44.5 120.0,44.5 150.0,84.0" stroke="#b22222" stroke-width="1" fill="none" stroke-linejoin="round" stroke-linecap="round" />
<polyline points="92.0,76.5 116.0,76.5" stroke="#ff0000" stroke-width="1" fill="none" stroke-linejoin="round" stroke-linecap="round" />
<polyline points="130.0,76.5 133.0,77.5 170.0,110.0" stroke="#ff0000" stroke-width="1" fill="none" stroke-linejoin="round" stroke-linecap="round" />
<polyline points="70.0,99.5 131.0,99.5 137.0,102.0" stroke="#0000ff" stroke-width="1" fill="none" stroke-linejoin="round" stroke-linecap="round" />
<polyline points="95.0,120.6 131.0,120.6 142.0,113.0" stroke="#6a5acd" stroke-width="1" fill="none" stroke-linejoin="round" stroke-linecap="round" />
<polyline points="103.0,137.0 142.0,137.0 146.0,146.0" stroke="#ff0000" stroke-width="1" fill="none" stroke-linejoin="round" stroke-linecap="round" />
<polyline points="106.0,151.0 111.0,151.0" stroke="#e05020" stroke-width="1" fill="none" stroke-linejoin="round" stroke-linecap="round" />
<polyline points="131.0,150.5 140.0,157.0 144.0,163.0" stroke="#e05020" stroke-width="1" fill="none" stroke-linejoin="round" stroke-linecap="round" />
<polyline points="94.0,166.5 112.0,166.5" stroke="#000" stroke-width="1" fill="none" stroke-linejoin="round" stroke-linecap="round" />
<polyline points="130.0,166.5 134.0,168.0 139.0,172.0" stroke="#000" stroke-width="1" fill="none" stroke-linejoin="round" stroke-linecap="round" />
<polyline points="71.0,179.5 139.4,179.5" stroke="#00a000" stroke-width="1" fill="none" stroke-linejoin="round" stroke-linecap="round" />
<polyline points="80.0,190.5 147.0,190.5" stroke="#00a000" stroke-width="1" fill="none" stroke-linejoin="round" stroke-linecap="round" />
<polyline points="69.0,202.0 112.0,202.0" stroke="#1830d8" stroke-width="1" fill="none" stroke-linejoin="round" stroke-linecap="round" />
<polyline points="130.0,202.0 133.0,201.0 160.0,171.0" stroke="#1830d8" stroke-width="1" fill="none" stroke-linejoin="round" stroke-linecap="round" />
<polyline points="81.0,213.0 131.0,213.0 160.0,188.0" stroke="#1830d8" stroke-width="1" fill="none" stroke-linejoin="round" stroke-linecap="round" />
<polyline points="98.0,225.5 142.0,225.5 145.0,220.0" stroke="#ff0000" stroke-width="1" fill="none" stroke-linejoin="round" stroke-linecap="round" />
<polyline points="52.0,264.4 132.0,264.4 137.0,262.0" stroke="#000" stroke-width="1" fill="none" stroke-linejoin="round" stroke-linecap="round" />
<polyline points="131.0,338.0 138.6,317.0" stroke="#ff0000" stroke-width="1" fill="none" stroke-linejoin="round" stroke-linecap="round" />
<circle cx="138.6" cy="317.5" r="1.5" fill="#ff0000" />
<polyline points="107.0,349.0 131.0,349.0 144.0,340.6" stroke="#ff0000" stroke-width="1" fill="none" stroke-linejoin="round" stroke-linecap="round" />
<polyline points="92.0,367.5 138.0,367.5" stroke="#1a1aa0" stroke-width="1" fill="none" stroke-linejoin="round" stroke-linecap="round" />
<polyline points="86.0,409.5 139.0,409.5" stroke="#1a1aa0" stroke-width="1" fill="none" stroke-linejoin="round" stroke-linecap="round" />
<polyline points="99.0,430.0 133.0,430.0 183.0,447.0" stroke="#b22222" stroke-width="1" fill="none" stroke-linejoin="round" stroke-linecap="round" />
<polyline points="57.0,468.0 132.0,468.0 191.4,456.0" stroke="#000" stroke-width="1" fill="none" stroke-linejoin="round" stroke-linecap="round" />
<polyline points="57.0,480.4 143.4,480.4" stroke="#555" stroke-width="1" fill="none" stroke-linejoin="round" stroke-linecap="round" />
<polyline points="57.0,490.0 131.0,490.0 143.0,500.0" stroke="#999" stroke-width="1" fill="none" stroke-linejoin="round" stroke-linecap="round" />
<polyline points="57.0,500.0 131.0,500.0 137.0,505.0" stroke="#d8d8d8" stroke-width="1" fill="none" stroke-linejoin="round" stroke-linecap="round" />
<line x1="55" y1="509.6" x2="136" y2="509.6" stroke="#87cefa" stroke-width="1" />
<line x1="55" y1="511.2" x2="136" y2="511.2" stroke="#87cefa" stroke-width="1" />
<polyline points="67.0,527.4 129.0,527.4 164.0,478.0 172.0,468.0" stroke="#ff9900" stroke-width="1" fill="none" stroke-linejoin="round" stroke-linecap="round" />
<line x1="54" y1="557" x2="186" y2="557" stroke="#87cefa" stroke-width="1" />
<line x1="54" y1="558.6" x2="186" y2="558.6" stroke="#87cefa" stroke-width="1" />
<line x1="49" y1="571" x2="192" y2="571" stroke="#a0a0a0" stroke-width="1" />
<line x1="40" y1="582" x2="122" y2="582" stroke="#404040" stroke-width="1" />
<line x1="130" y1="582" x2="136" y2="582" stroke="#404040" stroke-width="1" />
<line x1="74" y1="594" x2="142" y2="594" stroke="#202020" stroke-width="1" />
<polyline points="30.0,605.0 217.0,605.0 219.0,601.0" stroke="#f8b800" stroke-width="1" fill="none" stroke-linejoin="round" stroke-linecap="round" />
<polyline points="139.0,623.6 148.0,623.6 157.0,611.0" stroke="#000" stroke-width="1" fill="none" stroke-linejoin="round" stroke-linecap="round" />
<text filter="url(#sharp)" x="128.5" y="63" font-size="11" text-anchor="end">30</text>
<text filter="url(#sharp)" x="128.5" y="80" font-size="11" text-anchor="end">20</text>
<text filter="url(#sharp)" x="128.5" y="97" font-size="11" text-anchor="end">10</text>
<text filter="url(#sharp)" x="128.5" y="114" font-size="11" text-anchor="end">0</text>
<text filter="url(#sharp)" x="128.5" y="132" font-size="11" text-anchor="end">-10</text>
<text filter="url(#sharp)" x="266.5" y="63" font-size="11" text-anchor="end">30</text>
<text filter="url(#sharp)" x="266.5" y="80" font-size="11" text-anchor="end">20</text>
<text filter="url(#sharp)" x="266.5" y="97" font-size="11" text-anchor="end">10</text>
<text filter="url(#sharp)" x="266.5" y="114" font-size="11" text-anchor="end">0</text>
<text filter="url(#sharp)" x="266.5" y="132" font-size="11" text-anchor="end">-10</text>
<text filter="url(#sharp)" x="128.5" y="154.5" font-size="11" text-anchor="end">2.0</text>
<text filter="url(#sharp)" x="128.5" y="172" font-size="11" text-anchor="end">1.5</text>
<text filter="url(#sharp)" x="128.5" y="189" font-size="11" text-anchor="end">1.0</text>
<text filter="url(#sharp)" x="128.5" y="206" font-size="11" text-anchor="end">0.5</text>
<text filter="url(#sharp)" x="128.5" y="223.5" font-size="11" text-anchor="end">0.0</text>
<text filter="url(#sharp)" x="253" y="154.5" font-size="11" fill="#f05a10">96</text>
<text filter="url(#sharp)" x="253" y="172" font-size="11" fill="#f05a10">84</text>
<text filter="url(#sharp)" x="253" y="189" font-size="11" fill="#f05a10">73</text>
<text filter="url(#sharp)" x="253" y="206" font-size="11" fill="#f05a10">61</text>
<text filter="url(#sharp)" x="253" y="223.5" font-size="11" fill="#f05a10">50</text>
<text filter="url(#sharp)" x="128.5" y="234.5" font-size="11" text-anchor="end">1018</text>
<text filter="url(#sharp)" x="251" y="234.5" font-size="11">1018</text>
<text filter="url(#sharp)" x="128.5" y="258" font-size="11" text-anchor="end">1016</text>
<text filter="url(#sharp)" x="251" y="258" font-size="11">1016</text>
<text filter="url(#sharp)" x="128.5" y="282" font-size="11" text-anchor="end">1014</text>
<text filter="url(#sharp)" x="251" y="282" font-size="11">1014</text>
<text filter="url(#sharp)" x="128.5" y="305" font-size="11" text-anchor="end">1012</text>
<text filter="url(#sharp)" x="251" y="305" font-size="11">1012</text>
<text filter="url(#sharp)" x="128.5" y="319.5" font-size="11" text-anchor="end">20</text>
<text filter="url(#sharp)" x="128.5" y="338.5" font-size="11" text-anchor="end">15</text>
<text filter="url(#sharp)" x="128.5" y="357.5" font-size="11" text-anchor="end">10</text>
<text filter="url(#sharp)" x="128.5" y="377" font-size="11" text-anchor="end">5</text>
<text filter="url(#sharp)" x="128.5" y="395.5" font-size="11" text-anchor="end">0</text>
<text filter="url(#sharp)" x="115" y="338.5" font-size="11" fill="#ff0000" text-anchor="end">–</text>
<text filter="url(#sharp)" x="251" y="319.5" font-size="11">72</text>
<text filter="url(#sharp)" x="251" y="338.5" font-size="11">54</text>
<text filter="url(#sharp)" x="251" y="358" font-size="11">36</text>
<text filter="url(#sharp)" x="251" y="377" font-size="11">18</text>
<text filter="url(#sharp)" x="251" y="396" font-size="11">0</text>
<text filter="url(#sharp)" x="128.5" y="440" font-size="11" text-anchor="end">15.0</text>
<text filter="url(#sharp)" x="128.5" y="460" font-size="11" text-anchor="end">7.0</text>
<text filter="url(#sharp)" x="128.5" y="479.5" font-size="11" text-anchor="end">2.0</text>
<text filter="url(#sharp)" x="128.5" y="499" font-size="11" text-anchor="end">0.5</text>
<text filter="url(#sharp)" x="128.5" y="518.5" font-size="11" text-anchor="end">0.0</text>
<text filter="url(#sharp)" x="251" y="440" font-size="11" fill="#ff8000">100</text>
<text filter="url(#sharp)" x="251" y="460" font-size="11" fill="#ff8000">20</text>
<text filter="url(#sharp)" x="251" y="479.5" font-size="11" fill="#ff8000">5</text>
<text filter="url(#sharp)" x="251" y="499" font-size="11" fill="#ff8000">1</text>
<text filter="url(#sharp)" x="251" y="518.5" font-size="11" fill="#ff8000">0</text>
<text filter="url(#sharp)" x="128.5" y="526.5" font-size="11" text-anchor="end">8</text>
<text filter="url(#sharp)" x="128.5" y="547" font-size="11" text-anchor="end">6</text>
<text filter="url(#sharp)" x="128.5" y="566" font-size="11" text-anchor="end">4</text>
<text filter="url(#sharp)" x="128.5" y="585.5" font-size="11" text-anchor="end">2</text>
<text filter="url(#sharp)" x="128.5" y="605" font-size="11" text-anchor="end">0</text>
<text filter="url(#sharp)" x="251" y="527" font-size="11" fill="#ff8000">1</text>
<text filter="url(#sharp)" x="251" y="547" font-size="11" fill="#ff8000">0.75</text>
<text filter="url(#sharp)" x="251" y="566" font-size="11" fill="#ff8000">0.5</text>
<text filter="url(#sharp)" x="251" y="586" font-size="11" fill="#ff8000">0.25</text>
<text filter="url(#sharp)" x="251" y="605" font-size="11" fill="#ff8000">0</text>
<text filter="url(#sharp)" x="164" y="51.5" font-size="12" text-anchor="middle">20</text>
<text filter="url(#sharp)" x="204" y="51.5" font-size="12" text-anchor="middle">02</text>
<text filter="url(#sharp)" x="244.5" y="51.5" font-size="12" text-anchor="middle">08</text>
<text filter="url(#sharp)" x="164.5" y="614.5" font-size="12" text-anchor="middle">18</text>
<text filter="url(#sharp)" x="203" y="614.5" font-size="12" text-anchor="middle">00</text>
<text filter="url(#sharp)" x="244.5" y="614.5" font-size="12" text-anchor="middle">06</text>
<rect x="407" y="149" width="92" height="511" fill="#e9e9e9" />
<rect x="576" y="149" width="92" height="511" fill="#e9e9e9" />
<rect x="745" y="149" width="12" height="511" fill="#e9e9e9" />
<rect x="343" y="178" width="414.5" height="77" fill="#ffffff" />
<rect x="343" y="226.5" width="414.5" height="28.5" fill="#87cefa" />
<polygon points="342.5,210.8 350.0,208.1 357.0,206.7 364.0,206.7 371.0,208.5 377.0,204.7 384.0,202.3 391.0,201.4 398.0,202.0 405.0,204.7 412.0,207.7 419.0,212.8 426.0,216.1 433.0,218.8 440.0,221.5 447.0,223.5 455.0,224.8 462.0,226.2 469.0,226.2 476.0,222.8 483.0,223.7 490.0,228.2 497.0,232.9 504.0,235.5 511.0,235.5 518.0,234.5 525.0,231.5 532.0,229.9 539.0,227.8 546.0,224.8 553.0,220.8 557.0,220.1 561.0,219.5 567.0,220.5 574.0,224.1 581.0,228.8 588.0,232.6 595.0,233.8 602.0,236.9 609.0,239.2 616.0,239.2 623.0,239.2 630.0,241.6 637.0,242.3 644.0,242.9 651.0,243.6 658.0,244.0 665.0,243.6 673.0,242.3 680.0,238.9 687.0,233.5 694.0,228.2 701.0,222.1 708.0,217.5 715.0,212.1 722.0,208.7 729.0,207.6 736.0,208.7 743.0,215.4 750.0,222.1 757.5,226.2 757.5,235.7 750.0,231.6 743.0,224.9 736.0,218.2 729.0,217.1 722.0,218.2 715.0,221.6 708.0,227.0 701.0,231.6 694.0,237.7 687.0,245.0 680.0,250.4 673.0,250.3 665.0,251.6 658.0,252.0 651.0,251.6 644.0,250.9 637.0,250.3 630.0,249.6 623.0,247.2 616.0,247.2 609.0,247.2 602.0,244.9 595.0,241.8 588.0,238.6 581.0,234.8 574.0,230.1 567.0,226.5 561.0,225.5 557.0,226.1 553.0,226.8 546.0,230.8 539.0,233.8 532.0,235.9 525.0,237.5 518.0,240.5 511.0,241.5 504.0,241.5 497.0,238.9 490.0,234.2 483.0,229.7 476.0,228.8 469.0,232.2 462.0,232.2 455.0,230.8 447.0,229.0 440.0,227.0 433.0,224.3 426.0,221.6 419.0,218.3 412.0,217.0 405.0,216.6 398.0,216.6 391.0,217.3 384.0,219.0 377.0,221.3 371.0,223.3 364.0,222.0 357.0,220.6 350.0,220.3 342.5,220.0" fill="#c4e6fc" />
<polygon points="342.5,207.0 350.0,204.5 357.0,202.5 364.0,200.8 371.0,199.0 377.0,195.8 384.0,192.5 391.0,191.1 398.0,191.8 405.0,193.1 412.0,195.2 419.0,198.5 426.0,201.2 433.0,203.9 440.0,205.6 447.0,206.4 455.0,207.0 462.0,207.9 469.0,208.3 476.0,206.2 483.0,204.8 490.0,208.6 497.0,212.6 504.0,214.6 511.0,214.2 518.0,212.6 525.0,211.0 532.0,209.2 539.0,207.0 546.0,204.5 553.0,201.6 557.0,200.5 561.0,199.4 567.0,200.8 574.0,203.9 581.0,207.9 588.0,211.9 595.0,214.2 602.0,216.6 609.0,217.7 616.0,219.0 623.0,220.9 630.0,222.6 637.0,222.6 644.0,222.6 651.0,223.3 658.0,223.6 665.0,224.0 673.0,222.6 680.0,220.0 687.0,215.3 694.0,209.9 701.0,203.9 708.0,198.5 715.0,193.1 722.0,189.8 729.0,189.1 736.0,191.1 743.0,196.5 750.0,203.2 757.5,209.9 757.5,217.4 750.0,210.7 743.0,204.0 736.0,198.6 729.0,196.6 722.0,197.3 715.0,200.6 708.0,206.0 701.0,211.4 694.0,217.4 687.0,222.8 680.0,227.5 673.0,230.1 665.0,231.5 658.0,231.1 651.0,230.8 644.0,230.1 637.0,230.1 630.0,230.1 623.0,228.4 616.0,226.5 609.0,225.2 602.0,224.1 595.0,221.7 588.0,219.4 581.0,215.4 574.0,211.4 567.0,208.3 561.0,206.9 557.0,208.0 553.0,209.1 546.0,212.0 539.0,214.5 532.0,216.7 525.0,218.5 518.0,220.1 511.0,221.7 504.0,222.1 497.0,220.1 490.0,216.1 483.0,212.3 476.0,213.7 469.0,215.8 462.0,215.4 455.0,214.5 447.0,213.9 440.0,213.1 433.0,211.4 426.0,208.7 419.0,206.0 412.0,202.7 405.0,200.6 398.0,199.3 391.0,198.6 384.0,200.0 377.0,203.3 371.0,206.5 364.0,208.3 357.0,210.0 350.0,212.0 342.5,214.5" fill="#ffd4d4" />
<rect x="407" y="178" width="92" height="77" fill="#e9e9e9" style="mix-blend-mode:multiply"/>
<rect x="576" y="178" width="92" height="77" fill="#e9e9e9" style="mix-blend-mode:multiply"/>
<rect x="745" y="178" width="12" height="77" fill="#e9e9e9" style="mix-blend-mode:multiply"/>
<line x1="343" y1="201.5" x2="757" y2="201.5" stroke="#000" stroke-width="1" stroke-dasharray="2,2" shape-rendering="crispEdges"/>
<line x1="343" y1="226.5" x2="757" y2="226.5" stroke="#000" stroke-width="1" stroke-dasharray="2,2" shape-rendering="crispEdges"/>
<line x1="343" y1="251.5" x2="757" y2="251.5" stroke="#000" stroke-width="1" stroke-dasharray="2,2" shape-rendering="crispEdges"/>
<line x1="356.5" y1="178" x2="356.5" y2="255" stroke="#000" stroke-width="1" stroke-dasharray="2,2" shape-rendering="crispEdges"/>
<line x1="377.5" y1="178" x2="377.5" y2="255" stroke="#000" stroke-width="1" stroke-dasharray="2,2" shape-rendering="crispEdges"/>
<line x1="398.5" y1="178" x2="398.5" y2="255" stroke="#000" stroke-width="1" stroke-dasharray="2,2" shape-rendering="crispEdges"/>
<line x1="420.5" y1="178" x2="420.5" y2="255" stroke="#000" stroke-width="1" stroke-dasharray="2,2" shape-rendering="crispEdges"/>
<line x1="441.5" y1="178" x2="441.5" y2="255" stroke="#000" stroke-width="1" stroke-dasharray="2,2" shape-rendering="crispEdges"/>
<line x1="462.5" y1="178" x2="462.5" y2="255" stroke="#000" stroke-width="1" stroke-dasharray="2,2" shape-rendering="crispEdges"/>
<line x1="483.5" y1="178" x2="483.5" y2="255" stroke="#000" stroke-width="1" stroke-dasharray="2,2" shape-rendering="crispEdges"/>
<line x1="504.5" y1="178" x2="504.5" y2="255" stroke="#000" stroke-width="1" stroke-dasharray="2,2" shape-rendering="crispEdges"/>
<line x1="525.5" y1="178" x2="525.5" y2="255" stroke="#000" stroke-width="1" stroke-dasharray="2,2" shape-rendering="crispEdges"/>
<line x1="546.5" y1="178" x2="546.5" y2="255" stroke="#000" stroke-width="1" stroke-dasharray="2,2" shape-rendering="crispEdges"/>
<line x1="567.5" y1="178" x2="567.5" y2="255" stroke="#000" stroke-width="1" stroke-dasharray="2,2" shape-rendering="crispEdges"/>
<line x1="588.5" y1="178" x2="588.5" y2="255" stroke="#000" stroke-width="1" stroke-dasharray="2,2" shape-rendering="crispEdges"/>
<line x1="609.5" y1="178" x2="609.5" y2="255" stroke="#000" stroke-width="1" stroke-dasharray="2,2" shape-rendering="crispEdges"/>
<line x1="630.5" y1="178" x2="630.5" y2="255" stroke="#000" stroke-width="1" stroke-dasharray="2,2" shape-rendering="crispEdges"/>
<line x1="652.5" y1="178" x2="652.5" y2="255" stroke="#000" stroke-width="1" stroke-dasharray="2,2" shape-rendering="crispEdges"/>
<line x1="673.5" y1="178" x2="673.5" y2="255" stroke="#000" stroke-width="1" stroke-dasharray="2,2" shape-rendering="crispEdges"/>
<line x1="694.5" y1="178" x2="694.5" y2="255" stroke="#000" stroke-width="1" stroke-dasharray="2,2" shape-rendering="crispEdges"/>
<line x1="715.5" y1="178" x2="715.5" y2="255" stroke="#000" stroke-width="1" stroke-dasharray="2,2" shape-rendering="crispEdges"/>
<line x1="736.5" y1="178" x2="736.5" y2="255" stroke="#000" stroke-width="1" stroke-dasharray="2,2" shape-rendering="crispEdges"/>
<line x1="349.4" y1="203.5" x2="349.4" y2="220.6" stroke="#a01c1c" stroke-width="1.6" />
<line x1="356.5" y1="200.5" x2="356.5" y2="219.3" stroke="#a01c1c" stroke-width="1.6" />
<line x1="363.6" y1="195" x2="363.6" y2="219.3" stroke="#a01c1c" stroke-width="1.6" />
<line x1="370.6" y1="190.4" x2="370.6" y2="218.6" stroke="#a01c1c" stroke-width="1.6" />
<line x1="377.6" y1="187.8" x2="377.6" y2="219.3" stroke="#a01c1c" stroke-width="1.6" />
<line x1="384.5" y1="189" x2="384.5" y2="217.3" stroke="#a01c1c" stroke-width="1.6" />
<line x1="391.6" y1="192.4" x2="391.6" y2="217.3" stroke="#a01c1c" stroke-width="1.6" />
<line x1="398.6" y1="196.5" x2="398.6" y2="216.6" stroke="#a01c1c" stroke-width="1.6" />
<line x1="405.7" y1="197.8" x2="405.7" y2="217.3" stroke="#a01c1c" stroke-width="1.6" />
<line x1="413" y1="200.5" x2="413" y2="217.3" stroke="#a01c1c" stroke-width="1.6" />
<line x1="419.8" y1="205" x2="419.8" y2="215" stroke="#a01c1c" stroke-width="1.6" />
<line x1="427" y1="208" x2="427" y2="217" stroke="#a01c1c" stroke-width="1.6" />
<line x1="434" y1="210" x2="434" y2="217" stroke="#a01c1c" stroke-width="1.6" />
<line x1="440.6" y1="213" x2="440.6" y2="217" stroke="#a01c1c" stroke-width="1.6" />
<line x1="448" y1="211.2" x2="448" y2="217.7" stroke="#a01c1c" stroke-width="1.6" />
<line x1="455" y1="211" x2="455" y2="218" stroke="#a01c1c" stroke-width="1.6" />
<line x1="462" y1="212" x2="462" y2="220" stroke="#a01c1c" stroke-width="1.6" />
<line x1="469" y1="212" x2="469" y2="222" stroke="#a01c1c" stroke-width="1.6" />
<line x1="476" y1="209.2" x2="476" y2="218" stroke="#a01c1c" stroke-width="1.6" />
<line x1="483" y1="209" x2="483" y2="220" stroke="#a01c1c" stroke-width="1.6" />
<line x1="490" y1="213.2" x2="490" y2="220" stroke="#a01c1c" stroke-width="1.6" />
<line x1="497" y1="218" x2="497" y2="224.6" stroke="#a01c1c" stroke-width="1.6" />
<line x1="504" y1="218" x2="504" y2="222" stroke="#a01c1c" stroke-width="1.6" />
<line x1="511" y1="215.5" x2="511" y2="218.6" stroke="#a01c1c" stroke-width="1.6" />
<line x1="518" y1="212.6" x2="518" y2="218" stroke="#a01c1c" stroke-width="1.6" />
<line x1="525" y1="211" x2="525" y2="218" stroke="#a01c1c" stroke-width="1.6" />
<line x1="532" y1="204.8" x2="532" y2="216.6" stroke="#a01c1c" stroke-width="1.6" />
<line x1="539" y1="198.5" x2="539" y2="216" stroke="#a01c1c" stroke-width="1.6" />
<line x1="546" y1="194.5" x2="546" y2="215.3" stroke="#a01c1c" stroke-width="1.6" />
<line x1="553" y1="194.5" x2="553" y2="215.3" stroke="#a01c1c" stroke-width="1.6" />
<line x1="560" y1="198.5" x2="560" y2="213.3" stroke="#a01c1c" stroke-width="1.6" />
<line x1="567" y1="205.2" x2="567" y2="211.2" stroke="#a01c1c" stroke-width="1.6" />
<line x1="574" y1="212.6" x2="574" y2="217.7" stroke="#a01c1c" stroke-width="1.6" />
<line x1="581" y1="214.6" x2="581" y2="220.6" stroke="#a01c1c" stroke-width="1.6" />
<line x1="588" y1="215.3" x2="588" y2="222" stroke="#a01c1c" stroke-width="1.6" />
<line x1="595" y1="215" x2="595" y2="222.6" stroke="#a01c1c" stroke-width="1.6" />
<line x1="602" y1="215.3" x2="602" y2="226" stroke="#a01c1c" stroke-width="1.6" />
<line x1="609" y1="216.6" x2="609" y2="225.3" stroke="#a01c1c" stroke-width="1.6" />
<line x1="616" y1="216.3" x2="616" y2="228" stroke="#a01c1c" stroke-width="1.6" />
<line x1="623" y1="217.3" x2="623" y2="231.3" stroke="#a01c1c" stroke-width="1.6" />
<line x1="630" y1="218" x2="630" y2="231.3" stroke="#a01c1c" stroke-width="1.6" />
<line x1="637" y1="218" x2="637" y2="231" stroke="#a01c1c" stroke-width="1.6" />
<line x1="644" y1="218" x2="644" y2="232" stroke="#a01c1c" stroke-width="1.6" />
<line x1="651" y1="218" x2="651" y2="232" stroke="#a01c1c" stroke-width="1.6" />
<line x1="658" y1="219.3" x2="658" y2="232" stroke="#a01c1c" stroke-width="1.6" />
<line x1="665" y1="219" x2="665" y2="232" stroke="#a01c1c" stroke-width="1.6" />
<line x1="673" y1="220.6" x2="673" y2="230.7" stroke="#a01c1c" stroke-width="1.6" />
<line x1="680" y1="218" x2="680" y2="228" stroke="#a01c1c" stroke-width="1.6" />
<line x1="687" y1="208.5" x2="687" y2="222" stroke="#a01c1c" stroke-width="1.6" />
<line x1="694" y1="203.8" x2="694" y2="219" stroke="#a01c1c" stroke-width="1.6" />
<line x1="701" y1="192.4" x2="701" y2="216.6" stroke="#a01c1c" stroke-width="1.6" />
<line x1="708" y1="185.7" x2="708" y2="215.3" stroke="#a01c1c" stroke-width="1.6" />
<line x1="715" y1="183.7" x2="715" y2="213" stroke="#a01c1c" stroke-width="1.6" />
<line x1="722" y1="185.7" x2="722" y2="211.9" stroke="#a01c1c" stroke-width="1.6" />
<line x1="729" y1="189.5" x2="729" y2="212.6" stroke="#a01c1c" stroke-width="1.6" />
<line x1="736" y1="199.1" x2="736" y2="212" stroke="#a01c1c" stroke-width="1.6" />
<line x1="743" y1="205.9" x2="743" y2="211.9" stroke="#a01c1c" stroke-width="1.6" />
<line x1="750" y1="211" x2="750" y2="218" stroke="#a01c1c" stroke-width="1.6" />
<polyline points="342.5,213.3 350.0,210.6 357.0,209.2 364.0,209.2 371.0,211.0 377.0,207.2 384.0,204.8 391.0,203.9 398.0,204.5 405.0,207.2 412.0,210.2 419.0,215.3 426.0,218.6 433.0,221.3 440.0,224.0 447.0,226.0 455.0,227.3 462.0,228.7 469.0,228.7 476.0,225.3 483.0,226.2 490.0,230.7 497.0,235.4 504.0,238.0 511.0,238.0 518.0,237.0 525.0,234.0 532.0,232.4 539.0,230.3 546.0,227.3 553.0,223.3 557.0,222.6 561.0,222.0 567.0,223.0 574.0,226.6 581.0,231.3 588.0,235.1 595.0,238.3 602.0,241.4 609.0,243.7 616.0,243.7 623.0,243.7 630.0,246.1 637.0,246.8 644.0,247.4 651.0,248.1 658.0,248.5 665.0,248.1 673.0,246.8 680.0,243.4 687.0,238.0 694.0,230.7 701.0,224.6 708.0,220.0 715.0,214.6 722.0,211.2 729.0,210.1 736.0,211.2 743.0,217.9 750.0,224.6 757.5,228.7" stroke="#0000ff" stroke-width="3" fill="none" stroke-linejoin="round" stroke-linecap="round" />
<polyline points="342.5,211.0 350.0,208.5 357.0,206.5 364.0,204.8 371.0,203.0 377.0,199.8 384.0,196.5 391.0,195.1 398.0,195.8 405.0,197.1 412.0,199.2 419.0,202.5 426.0,205.2 433.0,207.9 440.0,209.6 447.0,210.4 455.0,211.0 462.0,211.9 469.0,212.3 476.0,210.2 483.0,208.8 490.0,212.6 497.0,216.6 504.0,218.6 511.0,218.2 518.0,216.6 525.0,215.0 532.0,213.2 539.0,211.0 546.0,208.5 553.0,205.6 557.0,204.5 561.0,203.4 567.0,204.8 574.0,207.9 581.0,211.9 588.0,215.9 595.0,218.2 602.0,220.6 609.0,221.7 616.0,223.0 623.0,224.9 630.0,226.6 637.0,226.6 644.0,226.6 651.0,227.3 658.0,227.6 665.0,228.0 673.0,226.6 680.0,224.0 687.0,219.3 694.0,213.9 701.0,207.9 708.0,202.5 715.0,197.1 722.0,193.8 729.0,193.1 736.0,195.1 743.0,200.5 750.0,207.2 757.5,213.9" stroke="#ff0000" stroke-width="3" fill="none" stroke-linejoin="round" stroke-linecap="round" />
<rect x="348.0" y="207.5" width="3" height="3" fill="#6a5ad8" />
<rect x="355.0" y="205.7" width="3" height="3" fill="#6a5ad8" />
<rect x="362.0" y="203.7" width="3" height="3" fill="#6a5ad8" />
<rect x="369.1" y="202.0" width="3" height="3" fill="#6a5ad8" />
<rect x="376.1" y="201.0" width="3" height="3" fill="#6a5ad8" />
<rect x="383.0" y="199.7" width="3" height="3" fill="#6a5ad8" />
<rect x="390.1" y="199.0" width="3" height="3" fill="#6a5ad8" />
<rect x="397.1" y="199.0" width="3" height="3" fill="#6a5ad8" />
<rect x="404.2" y="199.7" width="3" height="3" fill="#6a5ad8" />
<rect x="411.5" y="200.3" width="3" height="3" fill="#6a5ad8" />
<rect x="418.3" y="203.7" width="3" height="3" fill="#6a5ad8" />
<rect x="425.5" y="205.7" width="3" height="3" fill="#6a5ad8" />
<rect x="432.5" y="208.7" width="3" height="3" fill="#6a5ad8" />
<rect x="439.1" y="210.5" width="3" height="3" fill="#6a5ad8" />
<rect x="446.5" y="211.7" width="3" height="3" fill="#6a5ad8" />
<rect x="453.5" y="211.7" width="3" height="3" fill="#6a5ad8" />
<rect x="460.5" y="212.7" width="3" height="3" fill="#6a5ad8" />
<rect x="467.5" y="212.7" width="3" height="3" fill="#6a5ad8" />
<rect x="474.5" y="209.5" width="3" height="3" fill="#6a5ad8" />
<rect x="481.5" y="211.7" width="3" height="3" fill="#6a5ad8" />
<rect x="488.5" y="216.2" width="3" height="3" fill="#6a5ad8" />
<rect x="495.5" y="221.1" width="3" height="3" fill="#6a5ad8" />
<rect x="502.5" y="223.1" width="3" height="3" fill="#6a5ad8" />
<rect x="509.5" y="223.1" width="3" height="3" fill="#6a5ad8" />
<rect x="516.5" y="223.1" width="3" height="3" fill="#6a5ad8" />
<rect x="523.5" y="223.1" width="3" height="3" fill="#6a5ad8" />
<rect x="530.5" y="224.2" width="3" height="3" fill="#6a5ad8" />
<rect x="537.5" y="224.5" width="3" height="3" fill="#6a5ad8" />
<rect x="544.5" y="223.8" width="3" height="3" fill="#6a5ad8" />
<rect x="551.5" y="222.9" width="3" height="3" fill="#6a5ad8" />
<rect x="558.5" y="221.8" width="3" height="3" fill="#6a5ad8" />
<rect x="565.5" y="221.5" width="3" height="3" fill="#6a5ad8" />
<rect x="572.5" y="222.9" width="3" height="3" fill="#6a5ad8" />
<rect x="579.5" y="223.1" width="3" height="3" fill="#6a5ad8" />
<rect x="586.5" y="223.4" width="3" height="3" fill="#6a5ad8" />
<rect x="593.5" y="225.1" width="3" height="3" fill="#6a5ad8" />
<rect x="600.5" y="226.5" width="3" height="3" fill="#6a5ad8" />
<rect x="607.5" y="227.8" width="3" height="3" fill="#6a5ad8" />
<rect x="614.5" y="227.8" width="3" height="3" fill="#6a5ad8" />
<rect x="621.5" y="228.1" width="3" height="3" fill="#6a5ad8" />
<rect x="628.5" y="228.1" width="3" height="3" fill="#6a5ad8" />
<rect x="635.5" y="228.1" width="3" height="3" fill="#6a5ad8" />
<rect x="642.5" y="228.1" width="3" height="3" fill="#6a5ad8" />
<rect x="649.5" y="228.1" width="3" height="3" fill="#6a5ad8" />
<rect x="656.5" y="228.8" width="3" height="3" fill="#6a5ad8" />
<rect x="663.5" y="228.8" width="3" height="3" fill="#6a5ad8" />
<rect x="671.5" y="228.5" width="3" height="3" fill="#6a5ad8" />
<rect x="678.5" y="226.5" width="3" height="3" fill="#6a5ad8" />
<rect x="685.5" y="223.8" width="3" height="3" fill="#6a5ad8" />
<rect x="692.5" y="221.1" width="3" height="3" fill="#6a5ad8" />
<rect x="699.5" y="219.1" width="3" height="3" fill="#6a5ad8" />
<rect x="706.5" y="216.7" width="3" height="3" fill="#6a5ad8" />
<rect x="713.5" y="215.1" width="3" height="3" fill="#6a5ad8" />
<rect x="720.5" y="214.4" width="3" height="3" fill="#6a5ad8" />
<rect x="727.5" y="213.7" width="3" height="3" fill="#6a5ad8" />
<rect x="734.5" y="213.1" width="3" height="3" fill="#6a5ad8" />
<rect x="741.5" y="213.5" width="3" height="3" fill="#6a5ad8" />
<rect x="748.5" y="215.8" width="3" height="3" fill="#6a5ad8" />
<rect x="755.5" y="217.5" width="3" height="3" fill="#6a5ad8" />
<line x1="342.5" y1="177" x2="342.5" y2="255.5" stroke="#000" stroke-width="1" />
<line x1="342" y1="177.7" x2="758" y2="177.7" stroke="#333" stroke-width="1.4" />
<line x1="757.5" y1="177" x2="757.5" y2="255.5" stroke="#000" stroke-width="1" />
<line x1="342" y1="255" x2="758" y2="255" stroke="#2a5a8a" stroke-width="1" />
<line x1="343" y1="266.5" x2="757" y2="266.5" stroke="#000" stroke-width="1" stroke-dasharray="2,2" shape-rendering="crispEdges"/>
<line x1="343" y1="281.5" x2="757" y2="281.5" stroke="#000" stroke-width="1" stroke-dasharray="2,2" shape-rendering="crispEdges"/>
<line x1="343" y1="296.5" x2="757" y2="296.5" stroke="#000" stroke-width="1" stroke-dasharray="2,2" shape-rendering="crispEdges"/>
<line x1="343" y1="311.5" x2="757" y2="311.5" stroke="#000" stroke-width="1" stroke-dasharray="2,2" shape-rendering="crispEdges"/>
<line x1="343" y1="326.5" x2="757" y2="326.5" stroke="#000" stroke-width="1" stroke-dasharray="2,2" shape-rendering="crispEdges"/>
<line x1="356.5" y1="264" x2="356.5" y2="341" stroke="#000" stroke-width="1" stroke-dasharray="2,2" shape-rendering="crispEdges"/>
<line x1="377.5" y1="264" x2="377.5" y2="341" stroke="#000" stroke-width="1" stroke-dasharray="2,2" shape-rendering="crispEdges"/>
<line x1="398.5" y1="264" x2="398.5" y2="341" stroke="#000" stroke-width="1" stroke-dasharray="2,2" shape-rendering="crispEdges"/>
<line x1="420.5" y1="264" x2="420.5" y2="341" stroke="#000" stroke-width="1" stroke-dasharray="2,2" shape-rendering="crispEdges"/>
<line x1="441.5" y1="264" x2="441.5" y2="341" stroke="#000" stroke-width="1" stroke-dasharray="2,2" shape-rendering="crispEdges"/>
<line x1="462.5" y1="264" x2="462.5" y2="341" stroke="#000" stroke-width="1" stroke-dasharray="2,2" shape-rendering="crispEdges"/>
<line x1="483.5" y1="264" x2="483.5" y2="341" stroke="#000" stroke-width="1" stroke-dasharray="2,2" shape-rendering="crispEdges"/>
<line x1="504.5" y1="264" x2="504.5" y2="341" stroke="#000" stroke-width="1" stroke-dasharray="2,2" shape-rendering="crispEdges"/>
<line x1="525.5" y1="264" x2="525.5" y2="341" stroke="#000" stroke-width="1" stroke-dasharray="2,2" shape-rendering="crispEdges"/>
<line x1="546.5" y1="264" x2="546.5" y2="341" stroke="#000" stroke-width="1" stroke-dasharray="2,2" shape-rendering="crispEdges"/>
<line x1="567.5" y1="264" x2="567.5" y2="341" stroke="#000" stroke-width="1" stroke-dasharray="2,2" shape-rendering="crispEdges"/>
<line x1="588.5" y1="264" x2="588.5" y2="341" stroke="#000" stroke-width="1" stroke-dasharray="2,2" shape-rendering="crispEdges"/>
<line x1="609.5" y1="264" x2="609.5" y2="341" stroke="#000" stroke-width="1" stroke-dasharray="2,2" shape-rendering="crispEdges"/>
<line x1="630.5" y1="264" x2="630.5" y2="341" stroke="#000" stroke-width="1" stroke-dasharray="2,2" shape-rendering="crispEdges"/>
<line x1="652.5" y1="264" x2="652.5" y2="341" stroke="#000" stroke-width="1" stroke-dasharray="2,2" shape-rendering="crispEdges"/>
<line x1="673.5" y1="264" x2="673.5" y2="341" stroke="#000" stroke-width="1" stroke-dasharray="2,2" shape-rendering="crispEdges"/>
<line x1="694.5" y1="264" x2="694.5" y2="341" stroke="#000" stroke-width="1" stroke-dasharray="2,2" shape-rendering="crispEdges"/>
<line x1="715.5" y1="264" x2="715.5" y2="341" stroke="#000" stroke-width="1" stroke-dasharray="2,2" shape-rendering="crispEdges"/>
<line x1="736.5" y1="264" x2="736.5" y2="341" stroke="#000" stroke-width="1" stroke-dasharray="2,2" shape-rendering="crispEdges"/>
<polyline points="342.5,270.5 356.0,271.2 363.0,272.0 370.0,274.5 377.0,279.5 381.0,281.0 385.0,281.0 391.0,279.5 398.0,277.0 405.0,274.5 412.0,271.3 419.0,270.7 426.0,271.3 433.0,272.0 440.0,274.0 447.0,274.0 454.0,273.4 461.0,272.0 468.0,271.3 475.0,270.2 482.0,274.0 489.0,275.3 496.0,276.1 503.0,276.6 510.0,280.1 517.0,282.8 524.0,285.5 531.0,289.5 538.0,294.3 545.0,298.1 552.0,301.6 557.0,304.3 561.0,305.1 567.0,302.4 574.0,294.9 581.0,286.3 588.0,280.9 595.0,280.1 602.0,280.1 609.0,280.1 616.0,276.6 623.0,274.0 630.0,272.9 644.0,272.9 651.0,272.6 658.0,272.6 665.0,272.9 672.0,274.8 679.0,278.8 686.0,284.7 693.0,290.9 700.0,296.2 707.0,300.8 714.0,306.1 721.0,308.8 728.0,307.8 735.0,302.9 742.0,293.5 749.0,286.3 757.5,278.2" stroke="#ee4a10" stroke-width="2.2" fill="none" stroke-linejoin="round" stroke-linecap="round" />
<line x1="342.5" y1="263" x2="342.5" y2="341.5" stroke="#000" stroke-width="1" />
<line x1="757.5" y1="263" x2="757.5" y2="341.5" stroke="#000" stroke-width="1" />
<line x1="342" y1="263.8" x2="758" y2="263.8" stroke="#333" stroke-width="1.4" />
<line x1="342" y1="341.5" x2="758" y2="341.5" stroke="#000" stroke-width="1" />
<line x1="352.5" y1="339" x2="352.5" y2="341" stroke="#00b000" stroke-width="1" />
<polygon points="342.5,359.0 357.0,357.1 363.0,357.9 365.0,358.2 365.0,428.0 342.5,428.0" fill="#ff1a00" />
<polygon points="365.0,358.2 370.0,359.0 372.0,359.5 372.0,428.0 365.0,428.0" fill="#ff2c10" />
<polygon points="372.0,359.5 377.0,360.6 384.0,361.1 391.0,363.2 398.0,364.3 405.0,365.9 412.0,367.0 419.0,369.7 420.0,369.8 420.0,428.0 372.0,428.0" fill="#ff3c0a" />
<polygon points="420.0,369.8 426.0,370.5 433.0,371.8 440.0,373.2 447.0,374.5 454.0,376.7 461.0,378.5 462.0,378.6 462.0,428.0 420.0,428.0" fill="#ff6010" />
<polygon points="462.0,378.6 468.0,379.3 475.0,379.3 482.0,378.5 489.0,377.2 496.0,376.7 503.0,375.9 505.0,375.6 505.0,428.0 462.0,428.0" fill="#ff8412" />
<polygon points="505.0,375.6 510.0,375.0 517.0,374.0 524.0,373.2 531.0,372.4 545.0,372.4 552.0,373.2 560.0,374.0 570.0,374.5 580.0,374.5 590.0,374.0 600.0,372.4 610.0,371.3 617.0,371.0 625.0,371.8 635.0,373.2 645.0,373.2 655.0,371.8 665.0,370.5 675.0,369.1 676.0,369.1 676.0,428.0 505.0,428.0" fill="#ff6a0c" />
<polygon points="676.0,369.1 681.0,368.8 681.0,428.0 676.0,428.0" fill="#ff5010" />
<polygon points="681.0,368.8 685.0,368.6 686.0,368.6 686.0,428.0 681.0,428.0" fill="#ff6818" />
<polygon points="686.0,368.6 693.0,368.4 693.0,428.0 686.0,428.0" fill="#ff4810" />
<polygon points="693.0,368.4 700.0,368.3 700.0,428.0 693.0,428.0" fill="#ff5a10" />
<polygon points="700.0,368.3 708.0,368.3 708.0,428.0 700.0,428.0" fill="#ff4010" />
<polygon points="708.0,368.3 720.0,368.3 740.0,367.8 750.0,366.5 757.5,365.1 757.5,428.0 708.0,428.0" fill="#ff3200" />
<line x1="343" y1="367.5" x2="757" y2="367.5" stroke="#000" stroke-width="1" stroke-dasharray="2,2" shape-rendering="crispEdges"/>
<line x1="343" y1="388.5" x2="757" y2="388.5" stroke="#000" stroke-width="1" stroke-dasharray="2,2" shape-rendering="crispEdges"/>
<line x1="343" y1="408.5" x2="757" y2="408.5" stroke="#000" stroke-width="1" stroke-dasharray="2,2" shape-rendering="crispEdges"/>
<line x1="356.5" y1="351" x2="356.5" y2="428" stroke="#000" stroke-width="1" stroke-dasharray="2,2" shape-rendering="crispEdges"/>
<line x1="377.5" y1="351" x2="377.5" y2="428" stroke="#000" stroke-width="1" stroke-dasharray="2,2" shape-rendering="crispEdges"/>
<line x1="398.5" y1="351" x2="398.5" y2="428" stroke="#000" stroke-width="1" stroke-dasharray="2,2" shape-rendering="crispEdges"/>
<line x1="420.5" y1="351" x2="420.5" y2="428" stroke="#000" stroke-width="1" stroke-dasharray="2,2" shape-rendering="crispEdges"/>
<line x1="441.5" y1="351" x2="441.5" y2="428" stroke="#000" stroke-width="1" stroke-dasharray="2,2" shape-rendering="crispEdges"/>
<line x1="462.5" y1="351" x2="462.5" y2="428" stroke="#000" stroke-width="1" stroke-dasharray="2,2" shape-rendering="crispEdges"/>
<line x1="483.5" y1="351" x2="483.5" y2="428" stroke="#000" stroke-width="1" stroke-dasharray="2,2" shape-rendering="crispEdges"/>
<line x1="504.5" y1="351" x2="504.5" y2="428" stroke="#000" stroke-width="1" stroke-dasharray="2,2" shape-rendering="crispEdges"/>
<line x1="525.5" y1="351" x2="525.5" y2="428" stroke="#000" stroke-width="1" stroke-dasharray="2,2" shape-rendering="crispEdges"/>
<line x1="546.5" y1="351" x2="546.5" y2="428" stroke="#000" stroke-width="1" stroke-dasharray="2,2" shape-rendering="crispEdges"/>
<line x1="567.5" y1="351" x2="567.5" y2="428" stroke="#000" stroke-width="1" stroke-dasharray="2,2" shape-rendering="crispEdges"/>
<line x1="588.5" y1="351" x2="588.5" y2="428" stroke="#000" stroke-width="1" stroke-dasharray="2,2" shape-rendering="crispEdges"/>
<line x1="609.5" y1="351" x2="609.5" y2="428" stroke="#000" stroke-width="1" stroke-dasharray="2,2" shape-rendering="crispEdges"/>
<line x1="630.5" y1="351" x2="630.5" y2="428" stroke="#000" stroke-width="1" stroke-dasharray="2,2" shape-rendering="crispEdges"/>
<line x1="652.5" y1="351" x2="652.5" y2="428" stroke="#000" stroke-width="1" stroke-dasharray="2,2" shape-rendering="crispEdges"/>
<line x1="673.5" y1="351" x2="673.5" y2="428" stroke="#000" stroke-width="1" stroke-dasharray="2,2" shape-rendering="crispEdges"/>
<line x1="694.5" y1="351" x2="694.5" y2="428" stroke="#000" stroke-width="1" stroke-dasharray="2,2" shape-rendering="crispEdges"/>
<line x1="715.5" y1="351" x2="715.5" y2="428" stroke="#000" stroke-width="1" stroke-dasharray="2,2" shape-rendering="crispEdges"/>
<line x1="736.5" y1="351" x2="736.5" y2="428" stroke="#000" stroke-width="1" stroke-dasharray="2,2" shape-rendering="crispEdges"/>
<polyline points="342.5,359.0 357.0,357.1 363.0,357.9 370.0,359.0 377.0,360.6 384.0,361.1 391.0,363.2 398.0,364.3 405.0,365.9 412.0,367.0 419.0,369.7 426.0,370.5 433.0,371.8 440.0,373.2 447.0,374.5 454.0,376.7 461.0,378.5 468.0,379.3 475.0,379.3 482.0,378.5 489.0,377.2 496.0,376.7 503.0,375.9 510.0,375.0 517.0,374.0 524.0,373.2 531.0,372.4 545.0,372.4 552.0,373.2 560.0,374.0 570.0,374.5 580.0,374.5 590.0,374.0 600.0,372.4 610.0,371.3 617.0,371.0 625.0,371.8 635.0,373.2 645.0,373.2 655.0,371.8 665.0,370.5 675.0,369.1 685.0,368.6 700.0,368.3 720.0,368.3 740.0,367.8 750.0,366.5 757.5,365.1" stroke="#000" stroke-width="2" fill="none" stroke-linejoin="round" stroke-linecap="round" />
<line x1="342.5" y1="350" x2="342.5" y2="428.5" stroke="#000" stroke-width="1" />
<line x1="757.5" y1="350" x2="757.5" y2="428.5" stroke="#000" stroke-width="1" />
<line x1="342" y1="350.5" x2="758" y2="350.5" stroke="#111" stroke-width="1" />
<line x1="342" y1="428.5" x2="758" y2="428.5" stroke="#000" stroke-width="1" />
<polygon points="342.5,509.8 349.0,509.6 349.0,515.0 342.5,515.0" fill="#7df6ff" />
<polygon points="349.0,509.6 357.0,509.3 363.0,508.5 370.0,507.1 370.0,515.0 349.0,515.0" fill="#00f2ff" />
<polygon points="370.0,507.1 377.0,503.9 384.0,502.3 398.0,502.3 405.0,503.9 412.0,502.3 419.0,501.8 426.0,501.2 433.0,500.4 433.0,515.0 370.0,515.0" fill="#00bdf8" />
<polygon points="433.0,500.4 440.0,499.6 447.0,499.1 454.0,497.7 461.0,496.9 468.0,496.9 482.0,496.4 489.0,494.5 496.0,495.1 503.0,496.4 504.0,496.2 504.0,515.0 433.0,515.0" fill="#0a84f4" />
<polygon points="504.0,496.2 510.0,495.1 517.0,492.4 524.0,491.6 531.0,491.0 545.0,490.5 552.0,491.0 557.0,490.5 561.0,488.9 567.0,490.5 574.0,493.2 588.0,494.2 595.0,492.4 605.0,489.7 609.0,491.6 609.0,515.0 504.0,515.0" fill="#0a4a8c" />
<polygon points="609.0,491.6 616.0,496.4 623.0,496.9 644.0,495.9 658.0,496.4 665.0,496.9 672.0,496.4 679.0,495.1 686.0,493.7 687.0,493.5 687.0,515.0 609.0,515.0" fill="#1a86f4" />
<polygon points="687.0,493.5 693.0,492.4 700.0,489.7 700.0,515.0 687.0,515.0" fill="#0a4a8c" />
<polygon points="700.0,489.7 707.0,487.5 714.0,487.0 721.0,487.5 728.0,489.7 729.0,490.2 729.0,515.0 700.0,515.0" fill="#007a00" />
<polygon points="729.0,490.2 735.0,493.2 736.0,493.7 736.0,515.0 729.0,515.0" fill="#0a4a8c" />
<polygon points="736.0,493.7 742.0,496.4 749.0,497.7 757.5,498.5 757.5,515.0 736.0,515.0" fill="#1a86f4" />
<line x1="343" y1="438.5" x2="757" y2="438.5" stroke="#000" stroke-width="1" stroke-dasharray="2,2" shape-rendering="crispEdges"/>
<line x1="343" y1="464.5" x2="757" y2="464.5" stroke="#000" stroke-width="1" stroke-dasharray="2,2" shape-rendering="crispEdges"/>
<line x1="343" y1="489.5" x2="757" y2="489.5" stroke="#000" stroke-width="1" stroke-dasharray="2,2" shape-rendering="crispEdges"/>
<line x1="356.5" y1="438" x2="356.5" y2="515" stroke="#000" stroke-width="1" stroke-dasharray="2,2" shape-rendering="crispEdges"/>
<line x1="377.5" y1="438" x2="377.5" y2="515" stroke="#000" stroke-width="1" stroke-dasharray="2,2" shape-rendering="crispEdges"/>
<line x1="398.5" y1="438" x2="398.5" y2="515" stroke="#000" stroke-width="1" stroke-dasharray="2,2" shape-rendering="crispEdges"/>
<line x1="420.5" y1="438" x2="420.5" y2="515" stroke="#000" stroke-width="1" stroke-dasharray="2,2" shape-rendering="crispEdges"/>
<line x1="441.5" y1="438" x2="441.5" y2="515" stroke="#000" stroke-width="1" stroke-dasharray="2,2" shape-rendering="crispEdges"/>
<line x1="462.5" y1="438" x2="462.5" y2="515" stroke="#000" stroke-width="1" stroke-dasharray="2,2" shape-rendering="crispEdges"/>
<line x1="483.5" y1="438" x2="483.5" y2="515" stroke="#000" stroke-width="1" stroke-dasharray="2,2" shape-rendering="crispEdges"/>
<line x1="504.5" y1="438" x2="504.5" y2="515" stroke="#000" stroke-width="1" stroke-dasharray="2,2" shape-rendering="crispEdges"/>
<line x1="525.5" y1="438" x2="525.5" y2="515" stroke="#000" stroke-width="1" stroke-dasharray="2,2" shape-rendering="crispEdges"/>
<line x1="546.5" y1="438" x2="546.5" y2="515" stroke="#000" stroke-width="1" stroke-dasharray="2,2" shape-rendering="crispEdges"/>
<line x1="567.5" y1="438" x2="567.5" y2="515" stroke="#000" stroke-width="1" stroke-dasharray="2,2" shape-rendering="crispEdges"/>
<line x1="588.5" y1="438" x2="588.5" y2="515" stroke="#000" stroke-width="1" stroke-dasharray="2,2" shape-rendering="crispEdges"/>
<line x1="609.5" y1="438" x2="609.5" y2="515" stroke="#000" stroke-width="1" stroke-dasharray="2,2" shape-rendering="crispEdges"/>
<line x1="630.5" y1="438" x2="630.5" y2="515" stroke="#000" stroke-width="1" stroke-dasharray="2,2" shape-rendering="crispEdges"/>
<line x1="652.5" y1="438" x2="652.5" y2="515" stroke="#000" stroke-width="1" stroke-dasharray="2,2" shape-rendering="crispEdges"/>
<line x1="673.5" y1="438" x2="673.5" y2="515" stroke="#000" stroke-width="1" stroke-dasharray="2,2" shape-rendering="crispEdges"/>
<line x1="694.5" y1="438" x2="694.5" y2="515" stroke="#000" stroke-width="1" stroke-dasharray="2,2" shape-rendering="crispEdges"/>
<line x1="715.5" y1="438" x2="715.5" y2="515" stroke="#000" stroke-width="1" stroke-dasharray="2,2" shape-rendering="crispEdges"/>
<line x1="736.5" y1="438" x2="736.5" y2="515" stroke="#000" stroke-width="1" stroke-dasharray="2,2" shape-rendering="crispEdges"/>
<polyline points="342.5,509.8 357.0,509.3 363.0,508.5 370.0,507.1 377.0,503.9 384.0,502.3 398.0,502.3 405.0,503.9 412.0,502.3 419.0,501.8 426.0,501.2 433.0,500.4 440.0,499.6 447.0,499.1 454.0,497.7 461.0,496.9 468.0,496.9 482.0,496.4 489.0,494.5 496.0,495.1 503.0,496.4 510.0,495.1 517.0,492.4 524.0,491.6 531.0,491.0 545.0,490.5 552.0,491.0 557.0,490.5 561.0,488.9 567.0,490.5 574.0,493.2 588.0,494.2 595.0,492.4 605.0,489.7 609.0,491.6 616.0,496.4 623.0,496.9 644.0,495.9 658.0,496.4 665.0,496.9 672.0,496.4 679.0,495.1 686.0,493.7 693.0,492.4 700.0,489.7 707.0,487.5 714.0,487.0 721.0,487.5 728.0,489.7 735.0,493.2 742.0,496.4 749.0,497.7 757.5,498.5" stroke="#0000a0" stroke-width="2.2" fill="none" stroke-linejoin="round" stroke-linecap="round" />
<line x1="342.5" y1="500.4" x2="350" y2="500.4" stroke="#ff0000" stroke-width="1.3" />
<line x1="350" y1="497.7" x2="357" y2="497.7" stroke="#ff0000" stroke-width="1.3" />
<line x1="357" y1="493.2" x2="364" y2="493.2" stroke="#ff0000" stroke-width="1.3" />
<line x1="364" y1="481.1" x2="371" y2="481.1" stroke="#ff0000" stroke-width="1.3" />
<line x1="371" y1="480.3" x2="378" y2="480.3" stroke="#ff0000" stroke-width="1.3" />
<line x1="378" y1="479.5" x2="385" y2="479.5" stroke="#ff0000" stroke-width="1.3" />
<line x1="385" y1="482.2" x2="398" y2="482.2" stroke="#ff0000" stroke-width="1.3" />
<line x1="398" y1="477.6" x2="405" y2="477.6" stroke="#ff0000" stroke-width="1.3" />
<line x1="405" y1="475.5" x2="412" y2="475.5" stroke="#ff0000" stroke-width="1.3" />
<line x1="412" y1="480.3" x2="426" y2="480.3" stroke="#ff0000" stroke-width="1.3" />
<line x1="426" y1="478.1" x2="433" y2="478.1" stroke="#ff0000" stroke-width="1.3" />
<line x1="433" y1="474.4" x2="440" y2="474.4" stroke="#ff0000" stroke-width="1.3" />
<line x1="440" y1="473.6" x2="468" y2="473.6" stroke="#ff0000" stroke-width="1.3" />
<line x1="468" y1="469.6" x2="475" y2="469.6" stroke="#ff0000" stroke-width="1.3" />
<line x1="475" y1="462" x2="482" y2="462" stroke="#ff0000" stroke-width="1.3" />
<line x1="482" y1="464.2" x2="489" y2="464.2" stroke="#ff0000" stroke-width="1.3" />
<line x1="490" y1="470.4" x2="497" y2="470.4" stroke="#ff0000" stroke-width="1.3" />
<line x1="498" y1="456.1" x2="505" y2="456.1" stroke="#ff0000" stroke-width="1.3" />
<line x1="505" y1="453.5" x2="512" y2="453.5" stroke="#ff0000" stroke-width="1.3" />
<line x1="512" y1="455.3" x2="519" y2="455.3" stroke="#ff0000" stroke-width="1.3" />
<line x1="519" y1="454.5" x2="526" y2="454.5" stroke="#ff0000" stroke-width="1.3" />
<line x1="526" y1="453.5" x2="533" y2="453.5" stroke="#ff0000" stroke-width="1.3" />
<line x1="533" y1="451.9" x2="540" y2="451.9" stroke="#ff0000" stroke-width="1.3" />
<line x1="540" y1="450.8" x2="547" y2="450.8" stroke="#ff0000" stroke-width="1.3" />
<line x1="547" y1="451.3" x2="554" y2="451.3" stroke="#ff0000" stroke-width="1.3" />
<line x1="554" y1="449.7" x2="561" y2="449.7" stroke="#ff0000" stroke-width="1.3" />
<line x1="561" y1="451.3" x2="567" y2="451.3" stroke="#ff0000" stroke-width="1.3" />
<line x1="567" y1="459.6" x2="574" y2="459.6" stroke="#ff0000" stroke-width="1.3" />
<line x1="574" y1="465" x2="581" y2="465" stroke="#ff0000" stroke-width="1.3" />
<line x1="581" y1="463.4" x2="588" y2="463.4" stroke="#ff0000" stroke-width="1.3" />
<line x1="588" y1="458.8" x2="595" y2="458.8" stroke="#ff0000" stroke-width="1.3" />
<line x1="595" y1="452.9" x2="602" y2="452.9" stroke="#ff0000" stroke-width="1.3" />
<line x1="602" y1="454.3" x2="609" y2="454.3" stroke="#ff0000" stroke-width="1.3" />
<line x1="609" y1="459.9" x2="616" y2="459.9" stroke="#ff0000" stroke-width="1.3" />
<line x1="616" y1="471.2" x2="623" y2="471.2" stroke="#ff0000" stroke-width="1.3" />
<line x1="623" y1="470.1" x2="651" y2="470.1" stroke="#ff0000" stroke-width="1.3" />
<line x1="651" y1="469.3" x2="673" y2="469.3" stroke="#ff0000" stroke-width="1.3" />
<line x1="673" y1="464.2" x2="680" y2="464.2" stroke="#ff0000" stroke-width="1.3" />
<line x1="680" y1="459.9" x2="687" y2="459.9" stroke="#ff0000" stroke-width="1.3" />
<line x1="687" y1="455.3" x2="694" y2="455.3" stroke="#ff0000" stroke-width="1.3" />
<line x1="694" y1="450.2" x2="701" y2="450.2" stroke="#ff0000" stroke-width="1.3" />
<line x1="701" y1="444.1" x2="708" y2="444.1" stroke="#ff0000" stroke-width="1.3" />
<line x1="708" y1="440.6" x2="715" y2="440.6" stroke="#ff0000" stroke-width="1.3" />
<line x1="715" y1="441.4" x2="722" y2="441.4" stroke="#ff0000" stroke-width="1.3" />
<line x1="722" y1="443.3" x2="729" y2="443.3" stroke="#ff0000" stroke-width="1.3" />
<line x1="729" y1="452.1" x2="736" y2="452.1" stroke="#ff0000" stroke-width="1.3" />
<line x1="736" y1="463.7" x2="743" y2="463.7" stroke="#ff0000" stroke-width="1.3" />
<line x1="743" y1="473.1" x2="750" y2="473.1" stroke="#ff0000" stroke-width="1.3" />
<line x1="750" y1="474.9" x2="757" y2="474.9" stroke="#ff0000" stroke-width="1.3" />
<line x1="342.5" y1="437" x2="342.5" y2="515.5" stroke="#000" stroke-width="1" />
<line x1="757.5" y1="437" x2="757.5" y2="515.5" stroke="#000" stroke-width="1" />
<line x1="342" y1="437.5" x2="758" y2="437.5" stroke="#111" stroke-width="1" />
<line x1="342" y1="515" x2="758" y2="515" stroke="#000" stroke-width="1" />
<line x1="356.5" y1="522" x2="356.5" y2="551" stroke="#000" stroke-width="1" stroke-dasharray="2,2" shape-rendering="crispEdges"/>
<line x1="377.5" y1="522" x2="377.5" y2="551" stroke="#000" stroke-width="1" stroke-dasharray="2,2" shape-rendering="crispEdges"/>
<line x1="398.5" y1="522" x2="398.5" y2="551" stroke="#000" stroke-width="1" stroke-dasharray="2,2" shape-rendering="crispEdges"/>
<line x1="420.5" y1="522" x2="420.5" y2="551" stroke="#000" stroke-width="1" stroke-dasharray="2,2" shape-rendering="crispEdges"/>
<line x1="441.5" y1="522" x2="441.5" y2="551" stroke="#000" stroke-width="1" stroke-dasharray="2,2" shape-rendering="crispEdges"/>
<line x1="462.5" y1="522" x2="462.5" y2="551" stroke="#000" stroke-width="1" stroke-dasharray="2,2" shape-rendering="crispEdges"/>
<line x1="483.5" y1="522" x2="483.5" y2="551" stroke="#000" stroke-width="1" stroke-dasharray="2,2" shape-rendering="crispEdges"/>
<line x1="504.5" y1="522" x2="504.5" y2="551" stroke="#000" stroke-width="1" stroke-dasharray="2,2" shape-rendering="crispEdges"/>
<line x1="525.5" y1="522" x2="525.5" y2="551" stroke="#000" stroke-width="1" stroke-dasharray="2,2" shape-rendering="crispEdges"/>
<line x1="546.5" y1="522" x2="546.5" y2="551" stroke="#000" stroke-width="1" stroke-dasharray="2,2" shape-rendering="crispEdges"/>
<line x1="567.5" y1="522" x2="567.5" y2="551" stroke="#000" stroke-width="1" stroke-dasharray="2,2" shape-rendering="crispEdges"/>
<line x1="588.5" y1="522" x2="588.5" y2="551" stroke="#000" stroke-width="1" stroke-dasharray="2,2" shape-rendering="crispEdges"/>
<line x1="609.5" y1="522" x2="609.5" y2="551" stroke="#000" stroke-width="1" stroke-dasharray="2,2" shape-rendering="crispEdges"/>
<line x1="630.5" y1="522" x2="630.5" y2="551" stroke="#000" stroke-width="1" stroke-dasharray="2,2" shape-rendering="crispEdges"/>
<line x1="652.5" y1="522" x2="652.5" y2="551" stroke="#000" stroke-width="1" stroke-dasharray="2,2" shape-rendering="crispEdges"/>
<line x1="673.5" y1="522" x2="673.5" y2="551" stroke="#000" stroke-width="1" stroke-dasharray="2,2" shape-rendering="crispEdges"/>
<line x1="694.5" y1="522" x2="694.5" y2="551" stroke="#000" stroke-width="1" stroke-dasharray="2,2" shape-rendering="crispEdges"/>
<line x1="715.5" y1="522" x2="715.5" y2="551" stroke="#000" stroke-width="1" stroke-dasharray="2,2" shape-rendering="crispEdges"/>
<line x1="736.5" y1="522" x2="736.5" y2="551" stroke="#000" stroke-width="1" stroke-dasharray="2,2" shape-rendering="crispEdges"/>
<g transform="translate(335.4,536.5) rotate(-27)"><line x1="-9.5" y1="0" x2="1" y2="0" stroke="#0000a8" stroke-width="1.2"/><polygon points="5.5,0 0,-2.6 0,2.6" fill="#0000a8"/></g>
<g transform="translate(342.4,536.5) rotate(-27)"><line x1="-9.5" y1="0" x2="1" y2="0" stroke="#0000a8" stroke-width="1.2"/><polygon points="5.5,0 0,-2.6 0,2.6" fill="#0000a8"/></g>
<g transform="translate(349.5,536.5) rotate(-27)"><line x1="-9.5" y1="0" x2="1" y2="0" stroke="#0000a8" stroke-width="1.2"/><polygon points="5.5,0 0,-2.6 0,2.6" fill="#0000a8"/></g>
<g transform="translate(356.5,536.5) rotate(-27)"><line x1="-9.5" y1="0" x2="1" y2="0" stroke="#0000a8" stroke-width="1.2"/><polygon points="5.5,0 0,-2.6 0,2.6" fill="#0000a8"/></g>
<g transform="translate(363.5,536.5) rotate(-55)"><line x1="-9.5" y1="0" x2="1" y2="0" stroke="#0000a8" stroke-width="1.2"/><polygon points="5.5,0 0,-2.6 0,2.6" fill="#0000a8"/></g>
<g transform="translate(370.6,536.5) rotate(-55)"><line x1="-9.5" y1="0" x2="1" y2="0" stroke="#0000a8" stroke-width="1.2"/><polygon points="5.5,0 0,-2.6 0,2.6" fill="#0000a8"/></g>
<g transform="translate(377.6,536.5) rotate(-55)"><line x1="-9.5" y1="0" x2="1" y2="0" stroke="#0000a8" stroke-width="1.2"/><polygon points="5.5,0 0,-2.6 0,2.6" fill="#0000a8"/></g>
<g transform="translate(384.7,536.5) rotate(-55)"><line x1="-9.5" y1="0" x2="1" y2="0" stroke="#0000a8" stroke-width="1.2"/><polygon points="5.5,0 0,-2.6 0,2.6" fill="#0000a8"/></g>
<g transform="translate(391.7,536.5) rotate(-42)"><line x1="-9.5" y1="0" x2="1" y2="0" stroke="#0000a8" stroke-width="1.2"/><polygon points="5.5,0 0,-2.6 0,2.6" fill="#0000a8"/></g>
<g transform="translate(398.7,536.5) rotate(-42)"><line x1="-9.5" y1="0" x2="1" y2="0" stroke="#0000a8" stroke-width="1.2"/><polygon points="5.5,0 0,-2.6 0,2.6" fill="#0000a8"/></g>
<g transform="translate(405.8,536.5) rotate(-42)"><line x1="-9.5" y1="0" x2="1" y2="0" stroke="#0000a8" stroke-width="1.2"/><polygon points="5.5,0 0,-2.6 0,2.6" fill="#0000a8"/></g>
<g transform="translate(412.8,536.5) rotate(-42)"><line x1="-9.5" y1="0" x2="1" y2="0" stroke="#0000a8" stroke-width="1.2"/><polygon points="5.5,0 0,-2.6 0,2.6" fill="#0000a8"/></g>
<g transform="translate(419.9,536.5) rotate(-42)"><line x1="-9.5" y1="0" x2="1" y2="0" stroke="#0000a8" stroke-width="1.2"/><polygon points="5.5,0 0,-2.6 0,2.6" fill="#0000a8"/></g>
<g transform="translate(426.9,536.5) rotate(-42)"><line x1="-9.5" y1="0" x2="1" y2="0" stroke="#0000a8" stroke-width="1.2"/><polygon points="5.5,0 0,-2.6 0,2.6" fill="#0000a8"/></g>
<g transform="translate(433.9,536.5) rotate(-42)"><line x1="-9.5" y1="0" x2="1" y2="0" stroke="#0000a8" stroke-width="1.2"/><polygon points="5.5,0 0,-2.6 0,2.6" fill="#0000a8"/></g>
<g transform="translate(441.0,536.5) rotate(-42)"><line x1="-9.5" y1="0" x2="1" y2="0" stroke="#0000a8" stroke-width="1.2"/><polygon points="5.5,0 0,-2.6 0,2.6" fill="#0000a8"/></g>
<g transform="translate(448.0,536.5) rotate(-30)"><line x1="-9.5" y1="0" x2="1" y2="0" stroke="#0000a8" stroke-width="1.2"/><polygon points="5.5,0 0,-2.6 0,2.6" fill="#0000a8"/></g>
<g transform="translate(455.1,536.5) rotate(-30)"><line x1="-9.5" y1="0" x2="1" y2="0" stroke="#0000a8" stroke-width="1.2"/><polygon points="5.5,0 0,-2.6 0,2.6" fill="#0000a8"/></g>
<g transform="translate(462.1,536.5) rotate(-15)"><line x1="-9.5" y1="0" x2="1" y2="0" stroke="#0000a8" stroke-width="1.2"/><polygon points="5.5,0 0,-2.6 0,2.6" fill="#0000a8"/></g>
<g transform="translate(469.1,536.5) rotate(-15)"><line x1="-9.5" y1="0" x2="1" y2="0" stroke="#0000a8" stroke-width="1.2"/><polygon points="5.5,0 0,-2.6 0,2.6" fill="#0000a8"/></g>
<g transform="translate(476.2,536.5) rotate(0)"><line x1="-9.5" y1="0" x2="1" y2="0" stroke="#0000a8" stroke-width="1.2"/><polygon points="5.5,0 0,-2.6 0,2.6" fill="#0000a8"/></g>
<g transform="translate(483.2,536.5) rotate(0)"><line x1="-9.5" y1="0" x2="1" y2="0" stroke="#0000a8" stroke-width="1.2"/><polygon points="5.5,0 0,-2.6 0,2.6" fill="#0000a8"/></g>
<g transform="translate(490.3,536.5) rotate(27)"><line x1="-9.5" y1="0" x2="1" y2="0" stroke="#0000a8" stroke-width="1.2"/><polygon points="5.5,0 0,-2.6 0,2.6" fill="#0000a8"/></g>
<g transform="translate(497.3,536.5) rotate(27)"><line x1="-9.5" y1="0" x2="1" y2="0" stroke="#0000a8" stroke-width="1.2"/><polygon points="5.5,0 0,-2.6 0,2.6" fill="#0000a8"/></g>
<g transform="translate(504.3,536.5) rotate(27)"><line x1="-9.5" y1="0" x2="1" y2="0" stroke="#0000a8" stroke-width="1.2"/><polygon points="5.5,0 0,-2.6 0,2.6" fill="#0000a8"/></g>
<g transform="translate(511.4,536.5) rotate(27)"><line x1="-9.5" y1="0" x2="1" y2="0" stroke="#0000a8" stroke-width="1.2"/><polygon points="5.5,0 0,-2.6 0,2.6" fill="#0000a8"/></g>
<g transform="translate(518.4,536.5) rotate(27)"><line x1="-9.5" y1="0" x2="1" y2="0" stroke="#0000a8" stroke-width="1.2"/><polygon points="5.5,0 0,-2.6 0,2.6" fill="#0000a8"/></g>
<g transform="translate(525.5,536.5) rotate(27)"><line x1="-9.5" y1="0" x2="1" y2="0" stroke="#0000a8" stroke-width="1.2"/><polygon points="5.5,0 0,-2.6 0,2.6" fill="#0000a8"/></g>
<g transform="translate(532.5,536.5) rotate(27)"><line x1="-9.5" y1="0" x2="1" y2="0" stroke="#0000a8" stroke-width="1.2"/><polygon points="5.5,0 0,-2.6 0,2.6" fill="#0000a8"/></g>
<g transform="translate(539.5,536.5) rotate(27)"><line x1="-9.5" y1="0" x2="1" y2="0" stroke="#0000a8" stroke-width="1.2"/><polygon points="5.5,0 0,-2.6 0,2.6" fill="#0000a8"/></g>
<g transform="translate(546.6,536.5) rotate(27)"><line x1="-9.5" y1="0" x2="1" y2="0" stroke="#0000a8" stroke-width="1.2"/><polygon points="5.5,0 0,-2.6 0,2.6" fill="#0000a8"/></g>
<g transform="translate(553.6,536.5) rotate(27)"><line x1="-9.5" y1="0" x2="1" y2="0" stroke="#0000a8" stroke-width="1.2"/><polygon points="5.5,0 0,-2.6 0,2.6" fill="#0000a8"/></g>
<g transform="translate(560.7,536.5) rotate(27)"><line x1="-9.5" y1="0" x2="1" y2="0" stroke="#0000a8" stroke-width="1.2"/><polygon points="5.5,0 0,-2.6 0,2.6" fill="#0000a8"/></g>
<g transform="translate(567.7,536.5) rotate(27)"><line x1="-9.5" y1="0" x2="1" y2="0" stroke="#0000a8" stroke-width="1.2"/><polygon points="5.5,0 0,-2.6 0,2.6" fill="#0000a8"/></g>
<g transform="translate(574.7,536.5) rotate(27)"><line x1="-9.5" y1="0" x2="1" y2="0" stroke="#0000a8" stroke-width="1.2"/><polygon points="5.5,0 0,-2.6 0,2.6" fill="#0000a8"/></g>
<g transform="translate(581.8,536.5) rotate(27)"><line x1="-9.5" y1="0" x2="1" y2="0" stroke="#0000a8" stroke-width="1.2"/><polygon points="5.5,0 0,-2.6 0,2.6" fill="#0000a8"/></g>
<g transform="translate(588.8,536.5) rotate(27)"><line x1="-9.5" y1="0" x2="1" y2="0" stroke="#0000a8" stroke-width="1.2"/><polygon points="5.5,0 0,-2.6 0,2.6" fill="#0000a8"/></g>
<g transform="translate(595.9,536.5) rotate(27)"><line x1="-9.5" y1="0" x2="1" y2="0" stroke="#0000a8" stroke-width="1.2"/><polygon points="5.5,0 0,-2.6 0,2.6" fill="#0000a8"/></g>
<g transform="translate(602.9,536.5) rotate(27)"><line x1="-9.5" y1="0" x2="1" y2="0" stroke="#0000a8" stroke-width="1.2"/><polygon points="5.5,0 0,-2.6 0,2.6" fill="#0000a8"/></g>
<g transform="translate(609.9,536.5) rotate(27)"><line x1="-9.5" y1="0" x2="1" y2="0" stroke="#0000a8" stroke-width="1.2"/><polygon points="5.5,0 0,-2.6 0,2.6" fill="#0000a8"/></g>
<g transform="translate(617.0,536.5) rotate(27)"><line x1="-9.5" y1="0" x2="1" y2="0" stroke="#0000a8" stroke-width="1.2"/><polygon points="5.5,0 0,-2.6 0,2.6" fill="#0000a8"/></g>
<g transform="translate(624.0,536.5) rotate(27)"><line x1="-9.5" y1="0" x2="1" y2="0" stroke="#0000a8" stroke-width="1.2"/><polygon points="5.5,0 0,-2.6 0,2.6" fill="#0000a8"/></g>
<g transform="translate(631.1,536.5) rotate(27)"><line x1="-9.5" y1="0" x2="1" y2="0" stroke="#0000a8" stroke-width="1.2"/><polygon points="5.5,0 0,-2.6 0,2.6" fill="#0000a8"/></g>
<g transform="translate(638.1,536.5) rotate(27)"><line x1="-9.5" y1="0" x2="1" y2="0" stroke="#0000a8" stroke-width="1.2"/><polygon points="5.5,0 0,-2.6 0,2.6" fill="#0000a8"/></g>
<g transform="translate(645.1,536.5) rotate(27)"><line x1="-9.5" y1="0" x2="1" y2="0" stroke="#0000a8" stroke-width="1.2"/><polygon points="5.5,0 0,-2.6 0,2.6" fill="#0000a8"/></g>
<g transform="translate(652.2,536.5) rotate(27)"><line x1="-9.5" y1="0" x2="1" y2="0" stroke="#0000a8" stroke-width="1.2"/><polygon points="5.5,0 0,-2.6 0,2.6" fill="#0000a8"/></g>
<g transform="translate(659.2,536.5) rotate(27)"><line x1="-9.5" y1="0" x2="1" y2="0" stroke="#0000a8" stroke-width="1.2"/><polygon points="5.5,0 0,-2.6 0,2.6" fill="#0000a8"/></g>
<g transform="translate(666.3,536.5) rotate(27)"><line x1="-9.5" y1="0" x2="1" y2="0" stroke="#0000a8" stroke-width="1.2"/><polygon points="5.5,0 0,-2.6 0,2.6" fill="#0000a8"/></g>
<g transform="translate(673.3,536.5) rotate(27)"><line x1="-9.5" y1="0" x2="1" y2="0" stroke="#0000a8" stroke-width="1.2"/><polygon points="5.5,0 0,-2.6 0,2.6" fill="#0000a8"/></g>
<g transform="translate(680.3,536.5) rotate(27)"><line x1="-9.5" y1="0" x2="1" y2="0" stroke="#0000a8" stroke-width="1.2"/><polygon points="5.5,0 0,-2.6 0,2.6" fill="#0000a8"/></g>
<g transform="translate(687.4,536.5) rotate(27)"><line x1="-9.5" y1="0" x2="1" y2="0" stroke="#0000a8" stroke-width="1.2"/><polygon points="5.5,0 0,-2.6 0,2.6" fill="#0000a8"/></g>
<g transform="translate(694.4,536.5) rotate(35)"><line x1="-9.5" y1="0" x2="1" y2="0" stroke="#0000a8" stroke-width="1.2"/><polygon points="5.5,0 0,-2.6 0,2.6" fill="#0000a8"/></g>
<g transform="translate(701.5,536.5) rotate(35)"><line x1="-9.5" y1="0" x2="1" y2="0" stroke="#0000a8" stroke-width="1.2"/><polygon points="5.5,0 0,-2.6 0,2.6" fill="#0000a8"/></g>
<g transform="translate(708.5,536.5) rotate(35)"><line x1="-9.5" y1="0" x2="1" y2="0" stroke="#0000a8" stroke-width="1.2"/><polygon points="5.5,0 0,-2.6 0,2.6" fill="#0000a8"/></g>
<g transform="translate(715.5,536.5) rotate(35)"><line x1="-9.5" y1="0" x2="1" y2="0" stroke="#0000a8" stroke-width="1.2"/><polygon points="5.5,0 0,-2.6 0,2.6" fill="#0000a8"/></g>
<g transform="translate(722.6,536.5) rotate(42)"><line x1="-9.5" y1="0" x2="1" y2="0" stroke="#0000a8" stroke-width="1.2"/><polygon points="5.5,0 0,-2.6 0,2.6" fill="#0000a8"/></g>
<g transform="translate(729.6,536.5) rotate(42)"><line x1="-9.5" y1="0" x2="1" y2="0" stroke="#0000a8" stroke-width="1.2"/><polygon points="5.5,0 0,-2.6 0,2.6" fill="#0000a8"/></g>
<g transform="translate(736.7,536.5) rotate(42)"><line x1="-9.5" y1="0" x2="1" y2="0" stroke="#0000a8" stroke-width="1.2"/><polygon points="5.5,0 0,-2.6 0,2.6" fill="#0000a8"/></g>
<g transform="translate(743.7,536.5) rotate(42)"><line x1="-9.5" y1="0" x2="1" y2="0" stroke="#0000a8" stroke-width="1.2"/><polygon points="5.5,0 0,-2.6 0,2.6" fill="#0000a8"/></g>
<g transform="translate(750.7,536.5) rotate(42)"><line x1="-9.5" y1="0" x2="1" y2="0" stroke="#0000a8" stroke-width="1.2"/><polygon points="5.5,0 0,-2.6 0,2.6" fill="#0000a8"/></g>
<g transform="translate(757.8,536.5) rotate(42)"><line x1="-9.5" y1="0" x2="1" y2="0" stroke="#0000a8" stroke-width="1.2"/><polygon points="5.5,0 0,-2.6 0,2.6" fill="#0000a8"/></g>
<line x1="342.5" y1="521" x2="342.5" y2="551.5" stroke="#000" stroke-width="1" />
<line x1="757.5" y1="521" x2="757.5" y2="551.5" stroke="#000" stroke-width="1" />
<line x1="342" y1="521.5" x2="758" y2="521.5" stroke="#000" stroke-width="1" />
<line x1="342" y1="551" x2="758" y2="551" stroke="#555" stroke-width="2" />
<rect x="343" y="558" width="414.5" height="78" fill="#87cefa" />
<rect x="407" y="558" width="92" height="78" fill="#ebe8f0" style="mix-blend-mode:multiply"/>
<rect x="576" y="558" width="92" height="78" fill="#ebe8f0" style="mix-blend-mode:multiply"/>
<rect x="745" y="558" width="12" height="78" fill="#ebe8f0" style="mix-blend-mode:multiply"/>
<line x1="343" y1="559.5" x2="757" y2="559.5" stroke="#000" stroke-width="1" stroke-dasharray="2,2" shape-rendering="crispEdges"/>
<line x1="343" y1="577.5" x2="757" y2="577.5" stroke="#000" stroke-width="1" stroke-dasharray="2,2" shape-rendering="crispEdges"/>
<line x1="343" y1="597.5" x2="757" y2="597.5" stroke="#000" stroke-width="1" stroke-dasharray="2,2" shape-rendering="crispEdges"/>
<line x1="343" y1="616.5" x2="757" y2="616.5" stroke="#000" stroke-width="1" stroke-dasharray="2,2" shape-rendering="crispEdges"/>
<line x1="356.5" y1="559" x2="356.5" y2="636" stroke="#000" stroke-width="1" stroke-dasharray="2,2" shape-rendering="crispEdges"/>
<line x1="377.5" y1="559" x2="377.5" y2="636" stroke="#000" stroke-width="1" stroke-dasharray="2,2" shape-rendering="crispEdges"/>
<line x1="398.5" y1="559" x2="398.5" y2="636" stroke="#000" stroke-width="1" stroke-dasharray="2,2" shape-rendering="crispEdges"/>
<line x1="420.5" y1="559" x2="420.5" y2="636" stroke="#000" stroke-width="1" stroke-dasharray="2,2" shape-rendering="crispEdges"/>
<line x1="441.5" y1="559" x2="441.5" y2="636" stroke="#000" stroke-width="1" stroke-dasharray="2,2" shape-rendering="crispEdges"/>
<line x1="462.5" y1="559" x2="462.5" y2="636" stroke="#000" stroke-width="1" stroke-dasharray="2,2" shape-rendering="crispEdges"/>
<line x1="483.5" y1="559" x2="483.5" y2="636" stroke="#000" stroke-width="1" stroke-dasharray="2,2" shape-rendering="crispEdges"/>
<line x1="504.5" y1="559" x2="504.5" y2="636" stroke="#000" stroke-width="1" stroke-dasharray="2,2" shape-rendering="crispEdges"/>
<line x1="525.5" y1="559" x2="525.5" y2="636" stroke="#000" stroke-width="1" stroke-dasharray="2,2" shape-rendering="crispEdges"/>
<line x1="546.5" y1="559" x2="546.5" y2="636" stroke="#000" stroke-width="1" stroke-dasharray="2,2" shape-rendering="crispEdges"/>
<line x1="567.5" y1="559" x2="567.5" y2="636" stroke="#000" stroke-width="1" stroke-dasharray="2,2" shape-rendering="crispEdges"/>
<line x1="588.5" y1="559" x2="588.5" y2="636" stroke="#000" stroke-width="1" stroke-dasharray="2,2" shape-rendering="crispEdges"/>
<line x1="609.5" y1="559" x2="609.5" y2="636" stroke="#000" stroke-width="1" stroke-dasharray="2,2" shape-rendering="crispEdges"/>
<line x1="630.5" y1="559" x2="630.5" y2="636" stroke="#000" stroke-width="1" stroke-dasharray="2,2" shape-rendering="crispEdges"/>
<line x1="652.5" y1="559" x2="652.5" y2="636" stroke="#000" stroke-width="1" stroke-dasharray="2,2" shape-rendering="crispEdges"/>
<line x1="673.5" y1="559" x2="673.5" y2="636" stroke="#000" stroke-width="1" stroke-dasharray="2,2" shape-rendering="crispEdges"/>
<line x1="694.5" y1="559" x2="694.5" y2="636" stroke="#000" stroke-width="1" stroke-dasharray="2,2" shape-rendering="crispEdges"/>
<line x1="715.5" y1="559" x2="715.5" y2="636" stroke="#000" stroke-width="1" stroke-dasharray="2,2" shape-rendering="crispEdges"/>
<line x1="736.5" y1="559" x2="736.5" y2="636" stroke="#000" stroke-width="1" stroke-dasharray="2,2" shape-rendering="crispEdges"/>
<circle cx="343.2" cy="565.6" r="2.6" fill="#b22222" />
<circle cx="350.2" cy="565.6" r="2.6" fill="#b22222" />
<circle cx="356.6" cy="565.6" r="2.6" fill="#b22222" />
<circle cx="363.6" cy="565.6" r="2.6" fill="#b22222" />
<circle cx="370.9" cy="565.6" r="2.6" fill="#b22222" />
<circle cx="377.6" cy="565.6" r="2.6" fill="#b22222" />
<circle cx="384.3" cy="565.6" r="2.6" fill="#b22222" />
<circle cx="391.5" cy="565.6" r="2.6" fill="#b22222" />
<circle cx="399.0" cy="565.6" r="2.6" fill="#b22222" />
<circle cx="405.7" cy="565.6" r="2.6" fill="#b22222" />
<circle cx="413.0" cy="565.6" r="2.6" fill="#b22222" />
<circle cx="420.0" cy="565.6" r="2.6" fill="#b22222" />
<circle cx="427.2" cy="565.6" r="2.6" fill="#b22222" />
<circle cx="433.9" cy="565.6" r="2.6" fill="#b22222" />
<circle cx="441.4" cy="567.0" r="2.6" fill="#b22222" />
<circle cx="448.1" cy="567.0" r="2.6" fill="#b22222" />
<circle cx="455.4" cy="567.0" r="2.6" fill="#b22222" />
<circle cx="462.1" cy="567.0" r="2.6" fill="#b22222" />
<circle cx="469.3" cy="567.0" r="2.6" fill="#b22222" />
<circle cx="476.3" cy="567.0" r="2.6" fill="#b22222" />
<circle cx="483.5" cy="567.0" r="2.6" fill="#b22222" />
<circle cx="490.3" cy="567.0" r="2.6" fill="#b22222" />
<circle cx="497.0" cy="567.0" r="2.6" fill="#b22222" />
<circle cx="546.6" cy="567.5" r="2.6" fill="#b22222" />
<circle cx="553.3" cy="567.5" r="2.6" fill="#b22222" />
<circle cx="560.2" cy="567.5" r="2.6" fill="#b22222" />
<circle cx="567.4" cy="567.5" r="2.6" fill="#b22222" />
<circle cx="574.6" cy="567.5" r="2.6" fill="#b22222" />
<circle cx="602.6" cy="568.6" r="2.6" fill="#b22222" />
<circle cx="609.5" cy="568.6" r="2.6" fill="#b22222" />
<circle cx="637.7" cy="568.6" r="2.6" fill="#b22222" />
<circle cx="644.7" cy="568.6" r="2.6" fill="#b22222" />
<circle cx="651.9" cy="568.6" r="2.6" fill="#b22222" />
<circle cx="665.8" cy="570.0" r="2.6" fill="#b22222" />
<circle cx="672.8" cy="570.0" r="2.6" fill="#b22222" />
<circle cx="680.0" cy="570.0" r="2.6" fill="#b22222" />
<circle cx="687.0" cy="570.0" r="2.6" fill="#b22222" />
<circle cx="694.0" cy="570.0" r="2.6" fill="#b22222" />
<circle cx="701.0" cy="570.0" r="2.6" fill="#b22222" />
<circle cx="708.0" cy="570.0" r="2.6" fill="#b22222" />
<circle cx="715.0" cy="570.0" r="2.6" fill="#b22222" />
<circle cx="722.0" cy="570.0" r="2.6" fill="#b22222" />
<circle cx="729.0" cy="570.0" r="2.6" fill="#b22222" />
<circle cx="736.0" cy="572.0" r="2.6" fill="#b22222" />
<circle cx="420.0" cy="568.0" r="2.6" fill="#d0d0d0" />
<circle cx="427.0" cy="568.0" r="2.6" fill="#c8c8c8" />
<circle cx="441.0" cy="570.0" r="2.6" fill="#b0b0b0" />
<circle cx="441.0" cy="579.5" r="2.6" fill="#ffffff" />
<circle cx="448.0" cy="578.5" r="2.6" fill="#e0e0e0" />
<circle cx="574.6" cy="576.0" r="2.6" fill="#ffffff" />
<circle cx="736.0" cy="576.0" r="2.6" fill="#ffffff" />
<circle cx="743.0" cy="573.0" r="2.6" fill="#ffffff" />
<circle cx="343.0" cy="605.0" r="2.6" fill="#000" />
<circle cx="350.0" cy="608.0" r="2.6" fill="#000" />
<circle cx="357.0" cy="608.0" r="2.6" fill="#000" />
<circle cx="363.6" cy="601.3" r="2.6" fill="#000" />
<circle cx="370.6" cy="600.0" r="2.6" fill="#000" />
<circle cx="377.6" cy="601.8" r="2.6" fill="#000" />
<circle cx="384.6" cy="603.4" r="2.6" fill="#000" />
<circle cx="391.6" cy="606.7" r="2.6" fill="#000" />
<circle cx="398.6" cy="604.8" r="2.6" fill="#000" />
<circle cx="405.6" cy="601.8" r="2.6" fill="#000" />
<circle cx="363.6" cy="606.0" r="2.6" fill="#888" />
<circle cx="377.6" cy="607.0" r="2.6" fill="#aaa" />
<circle cx="384.6" cy="609.0" r="2.6" fill="#ccc" />
<circle cx="398.6" cy="610.0" r="2.6" fill="#ddd" />
<circle cx="405.6" cy="606.0" r="2.6" fill="#999" />
<circle cx="412.6" cy="603.0" r="2.6" fill="#bbb" />
<circle cx="391.6" cy="618.0" r="2.6" fill="#fff" />
<circle cx="343.0" cy="622.0" r="2.6" fill="#aaa" />
<circle cx="350.0" cy="627.0" r="2.6" fill="#bbb" />
<circle cx="357.0" cy="630.0" r="2.6" fill="#ccc" />
<circle cx="363.6" cy="630.5" r="2.6" fill="#aaa" />
<circle cx="370.6" cy="630.5" r="2.6" fill="#aaa" />
<circle cx="377.6" cy="629.0" r="2.6" fill="#fff" />
<circle cx="384.6" cy="628.0" r="2.6" fill="#fff" />
<circle cx="405.6" cy="630.8" r="2.6" fill="#fff" />
<circle cx="412.6" cy="630.8" r="2.6" fill="#fff" />
<circle cx="419.6" cy="630.8" r="2.6" fill="#fff" />
<circle cx="426.6" cy="630.8" r="2.6" fill="#fff" />
<circle cx="433.6" cy="630.8" r="2.6" fill="#fff" />
<circle cx="455.0" cy="630.8" r="2.6" fill="#fff" />
<circle cx="462.0" cy="630.8" r="2.6" fill="#fff" />
<circle cx="469.0" cy="622.0" r="2.6" fill="#666" />
<circle cx="476.0" cy="621.4" r="2.6" fill="#000" />
<circle cx="483.0" cy="618.7" r="2.6" fill="#000" />
<circle cx="469.0" cy="626.0" r="2.6" fill="#999" />
<circle cx="476.0" cy="626.0" r="2.6" fill="#777" />
<circle cx="483.0" cy="624.0" r="2.6" fill="#aaa" />
<circle cx="476.0" cy="630.8" r="2.6" fill="#ddd" />
<circle cx="483.0" cy="630.0" r="2.6" fill="#fff" />
<circle cx="490.0" cy="630.0" r="2.6" fill="#fff" />
<circle cx="490.0" cy="623.0" r="2.6" fill="#ccc" />
<circle cx="497.0" cy="628.0" r="2.6" fill="#fff" />
<circle cx="504.0" cy="614.7" r="2.6" fill="#b22222" />
<circle cx="511.0" cy="613.4" r="2.6" fill="#b22222" />
<circle cx="518.0" cy="611.5" r="2.6" fill="#b22222" />
<circle cx="525.0" cy="609.9" r="2.6" fill="#b22222" />
<circle cx="532.0" cy="609.3" r="2.6" fill="#b22222" />
<circle cx="532.0" cy="605.3" r="2.6" fill="#b22222" />
<circle cx="504.0" cy="618.0" r="2.6" fill="#000" />
<circle cx="511.0" cy="618.0" r="2.6" fill="#000" />
<circle cx="518.0" cy="615.2" r="2.6" fill="#000" />
<circle cx="525.0" cy="614.2" r="2.6" fill="#000" />
<circle cx="532.0" cy="612.6" r="2.6" fill="#000" />
<circle cx="539.0" cy="612.0" r="2.6" fill="#000" />
<circle cx="546.0" cy="612.6" r="2.6" fill="#000" />
<circle cx="553.0" cy="612.0" r="2.6" fill="#000" />
<circle cx="504.0" cy="623.0" r="2.6" fill="#666" />
<circle cx="511.0" cy="622.0" r="2.6" fill="#888" />
<circle cx="518.0" cy="621.0" r="2.6" fill="#999" />
<circle cx="525.0" cy="619.0" r="2.6" fill="#bbb" />
<circle cx="504.0" cy="628.0" r="2.6" fill="#ccc" />
<circle cx="511.0" cy="627.0" r="2.6" fill="#ddd" />
<circle cx="504.0" cy="631.0" r="2.6" fill="#fff" />
<circle cx="518.0" cy="628.0" r="2.6" fill="#fff" />
<circle cx="525.0" cy="626.0" r="2.6" fill="#fff" />
<circle cx="532.0" cy="624.0" r="2.6" fill="#fff" />
<circle cx="539.0" cy="623.0" r="2.6" fill="#fff" />
<circle cx="546.0" cy="620.0" r="2.6" fill="#fff" />
<circle cx="553.0" cy="617.0" r="2.6" fill="#fff" />
<circle cx="560.0" cy="612.0" r="2.6" fill="#aaa" />
<circle cx="567.0" cy="615.0" r="2.6" fill="#fff" />
<circle cx="581.0" cy="617.0" r="2.6" fill="#fff" />
<circle cx="588.0" cy="617.4" r="2.6" fill="#b22222" />
<circle cx="595.0" cy="616.0" r="2.6" fill="#b22222" />
<circle cx="602.0" cy="619.0" r="2.6" fill="#000" />
<circle cx="609.0" cy="619.0" r="2.6" fill="#000" />
<circle cx="616.0" cy="620.0" r="2.6" fill="#b22222" />
<circle cx="623.0" cy="621.4" r="2.6" fill="#b22222" />
<circle cx="630.0" cy="621.4" r="2.6" fill="#b22222" />
<circle cx="658.0" cy="621.4" r="2.6" fill="#b22222" />
<circle cx="602.0" cy="623.0" r="2.6" fill="#999" />
<circle cx="609.0" cy="623.0" r="2.6" fill="#aaa" />
<circle cx="602.0" cy="627.0" r="2.6" fill="#ddd" />
<circle cx="595.0" cy="624.0" r="2.6" fill="#ddd" />
<circle cx="588.0" cy="626.0" r="2.6" fill="#fff" />
<circle cx="595.0" cy="628.0" r="2.6" fill="#fff" />
<circle cx="602.0" cy="630.4" r="2.6" fill="#fff" />
<circle cx="609.0" cy="630.4" r="2.6" fill="#fff" />
<circle cx="616.0" cy="630.4" r="2.6" fill="#fff" />
<circle cx="623.0" cy="630.4" r="2.6" fill="#fff" />
<circle cx="630.0" cy="630.4" r="2.6" fill="#fff" />
<circle cx="637.0" cy="630.4" r="2.6" fill="#fff" />
<circle cx="644.0" cy="629.0" r="2.6" fill="#ddd" />
<circle cx="651.0" cy="630.4" r="2.6" fill="#fff" />
<circle cx="658.0" cy="630.4" r="2.6" fill="#ddd" />
<circle cx="665.0" cy="630.4" r="2.6" fill="#fff" />
<circle cx="672.0" cy="630.4" r="2.6" fill="#ddd" />
<circle cx="680.0" cy="629.0" r="2.6" fill="#fff" />
<circle cx="680.0" cy="623.0" r="2.6" fill="#666" />
<circle cx="687.0" cy="622.0" r="2.6" fill="#555" />
<circle cx="694.0" cy="620.0" r="2.6" fill="#999" />
<circle cx="701.0" cy="617.0" r="2.6" fill="#aaa" />
<circle cx="708.0" cy="615.0" r="2.6" fill="#aaa" />
<circle cx="715.0" cy="613.0" r="2.6" fill="#ccc" />
<circle cx="722.0" cy="613.0" r="2.6" fill="#ccc" />
<circle cx="729.0" cy="615.0" r="2.6" fill="#fff" />
<circle cx="680.0" cy="627.0" r="2.6" fill="#ddd" />
<circle cx="687.0" cy="626.0" r="2.6" fill="#fff" />
<circle cx="694.0" cy="624.0" r="2.6" fill="#fff" />
<circle cx="701.0" cy="621.0" r="2.6" fill="#fff" />
<circle cx="708.0" cy="619.0" r="2.6" fill="#fff" />
<circle cx="757.0" cy="623.0" r="2.6" fill="#b22222" />
<circle cx="757.0" cy="629.0" r="2.6" fill="#fff" />
<polyline points="342.5,591.1 357.0,592.7 363.0,593.8 370.0,595.9 377.0,594.0 384.0,593.2 391.0,592.4 398.0,594.6 405.0,598.1 412.0,600.8 419.0,601.8 426.0,601.3 433.0,600.0 440.0,595.9 447.0,595.4 461.0,594.6 468.0,594.6 475.0,595.1 482.0,594.6 489.0,593.2 496.0,587.9 503.0,585.2 510.0,582.5 517.0,578.5 524.0,575.0 531.0,573.1 538.0,572.3 545.0,571.8 560.0,571.2 570.0,571.8 580.0,573.9 590.0,575.8 610.0,575.8 620.0,577.1 630.0,579.3 640.0,580.6 650.0,582.0 660.0,582.5 665.0,582.0 672.0,579.3 680.0,577.7 690.0,576.6 700.0,575.8 710.0,574.5 720.0,573.1 730.0,572.3 740.0,573.9 750.0,576.6 757.5,579.3" stroke="#ff9900" stroke-width="2.2" fill="none" stroke-linejoin="round" stroke-linecap="round" />
<line x1="342.5" y1="557" x2="342.5" y2="636.5" stroke="#000" stroke-width="1" />
<line x1="757.5" y1="557" x2="757.5" y2="636.5" stroke="#000" stroke-width="1" />
<line x1="342" y1="558" x2="758" y2="558" stroke="#222" stroke-width="2" />
<line x1="342" y1="636" x2="758" y2="636" stroke="#000" stroke-width="1" />
<rect x="343" y="645" width="414.5" height="15" fill="#87cefa" />
<rect x="407" y="645" width="92" height="15" fill="#ebe8f0" style="mix-blend-mode:multiply"/>
<rect x="576" y="645" width="92" height="15" fill="#ebe8f0" style="mix-blend-mode:multiply"/>
<rect x="745" y="645" width="12" height="15" fill="#ebe8f0" style="mix-blend-mode:multiply"/>
<polygon points="343.0,645.0 362.0,645.0 377.0,660.0 343.0,660.0" fill="#585858" />
<polygon points="386.0,645.0 398.4,645.0 407.8,660.0 379.0,660.0" fill="#585858" />
<polygon points="475.0,645.0 473.0,660.0 485.0,660.0" fill="#585858" />
<polygon points="503.0,660.0 505.0,652.0 510.0,647.0 518.0,645.0 532.0,645.0 540.0,647.0 545.0,653.0 547.0,660.0" fill="#585858" />
<polygon points="543.0,660.0 546.0,655.0 548.0,660.0" fill="#585858" />
<line x1="343" y1="648.5" x2="757" y2="648.5" stroke="#000" stroke-width="1" stroke-dasharray="2,2" shape-rendering="crispEdges"/>
<line x1="356.5" y1="646" x2="356.5" y2="660" stroke="#000" stroke-width="1" stroke-dasharray="2,2" shape-rendering="crispEdges"/>
<line x1="377.5" y1="646" x2="377.5" y2="660" stroke="#000" stroke-width="1" stroke-dasharray="2,2" shape-rendering="crispEdges"/>
<line x1="398.5" y1="646" x2="398.5" y2="660" stroke="#000" stroke-width="1" stroke-dasharray="2,2" shape-rendering="crispEdges"/>
<line x1="420.5" y1="646" x2="420.5" y2="660" stroke="#000" stroke-width="1" stroke-dasharray="2,2" shape-rendering="crispEdges"/>
<line x1="441.5" y1="646" x2="441.5" y2="660" stroke="#000" stroke-width="1" stroke-dasharray="2,2" shape-rendering="crispEdges"/>
<line x1="462.5" y1="646" x2="462.5" y2="660" stroke="#000" stroke-width="1" stroke-dasharray="2,2" shape-rendering="crispEdges"/>
<line x1="483.5" y1="646" x2="483.5" y2="660" stroke="#000" stroke-width="1" stroke-dasharray="2,2" shape-rendering="crispEdges"/>
<line x1="504.5" y1="646" x2="504.5" y2="660" stroke="#000" stroke-width="1" stroke-dasharray="2,2" shape-rendering="crispEdges"/>
<line x1="525.5" y1="646" x2="525.5" y2="660" stroke="#000" stroke-width="1" stroke-dasharray="2,2" shape-rendering="crispEdges"/>
<line x1="546.5" y1="646" x2="546.5" y2="660" stroke="#000" stroke-width="1" stroke-dasharray="2,2" shape-rendering="crispEdges"/>
<line x1="567.5" y1="646" x2="567.5" y2="660" stroke="#000" stroke-width="1" stroke-dasharray="2,2" shape-rendering="crispEdges"/>
<line x1="588.5" y1="646" x2="588.5" y2="660" stroke="#000" stroke-width="1" stroke-dasharray="2,2" shape-rendering="crispEdges"/>
<line x1="609.5" y1="646" x2="609.5" y2="660" stroke="#000" stroke-width="1" stroke-dasharray="2,2" shape-rendering="crispEdges"/>
<line x1="630.5" y1="646" x2="630.5" y2="660" stroke="#000" stroke-width="1" stroke-dasharray="2,2" shape-rendering="crispEdges"/>
<line x1="652.5" y1="646" x2="652.5" y2="660" stroke="#000" stroke-width="1" stroke-dasharray="2,2" shape-rendering="crispEdges"/>
<line x1="673.5" y1="646" x2="673.5" y2="660" stroke="#000" stroke-width="1" stroke-dasharray="2,2" shape-rendering="crispEdges"/>
<line x1="694.5" y1="646" x2="694.5" y2="660" stroke="#000" stroke-width="1" stroke-dasharray="2,2" shape-rendering="crispEdges"/>
<line x1="715.5" y1="646" x2="715.5" y2="660" stroke="#000" stroke-width="1" stroke-dasharray="2,2" shape-rendering="crispEdges"/>
<line x1="736.5" y1="646" x2="736.5" y2="660" stroke="#000" stroke-width="1" stroke-dasharray="2,2" shape-rendering="crispEdges"/>
<line x1="342.5" y1="645" x2="342.5" y2="660" stroke="#000" stroke-width="1" />
<line x1="757.5" y1="645" x2="757.5" y2="660" stroke="#000" stroke-width="1" />
<line x1="342" y1="645.5" x2="758" y2="645.5" stroke="#000" stroke-width="1" />
<text filter="url(#sharp)" x="282" y="133.4" font-size="12" fill="#000088" textLength="146.8" lengthAdjust="spacingAndGlyphs">wschód słońca: 06:14 CET</text>
<text filter="url(#sharp)" x="283.7" y="145.8" font-size="12" fill="#000088" textLength="143.9" lengthAdjust="spacingAndGlyphs">zachód słońca: 17:14 CET</text>
<text filter="url(#sharp)" x="486.6" y="133" font-size="12" fill="#000088" textLength="127.8" lengthAdjust="spacingAndGlyphs">21°31'43"E, 53°44'52"N</text>
<text filter="url(#sharp)" x="509" y="145" font-size="12" fill="#000088" textLength="82.2" lengthAdjust="spacingAndGlyphs" style="white-space:pre">(x=258,  y=362)</text>
<text filter="url(#sharp)" x="659.3" y="132.6" font-size="12" fill="#000088" textLength="158.1" lengthAdjust="spacingAndGlyphs">wysokość (min, środek, max)</text>
<text filter="url(#sharp)" x="691" y="145" font-size="12" fill="#000088" textLength="95" lengthAdjust="spacingAndGlyphs">128 - 146 - 176 m</text>
<text filter="url(#sharp)" x="347.8" y="162" font-size="12" textLength="59.5" lengthAdjust="spacingAndGlyphs">wto, 03.03</text>
<text filter="url(#sharp)" x="517.6" y="162" font-size="12" textLength="57.3" lengthAdjust="spacingAndGlyphs">śro, 04.03</text>
<text filter="url(#sharp)" x="685" y="161.5" font-size="12" textLength="61.5" lengthAdjust="spacingAndGlyphs">czw, 05.03</text>
<text filter="url(#sharp)" x="306.3" y="175" font-size="12" textLength="24.4" lengthAdjust="spacingAndGlyphs">CET</text>
<text filter="url(#sharp)" x="769.5" y="175" font-size="12" textLength="24.1" lengthAdjust="spacingAndGlyphs">CET</text>
<text filter="url(#sharp)" x="356.5" y="175" font-size="12" text-anchor="middle" textLength="13.4" lengthAdjust="spacingAndGlyphs">10</text>
<text filter="url(#sharp)" x="398.7" y="175" font-size="12" text-anchor="middle" textLength="13.4" lengthAdjust="spacingAndGlyphs">16</text>
<text filter="url(#sharp)" x="441.0" y="175" font-size="12" text-anchor="middle" textLength="13.4" lengthAdjust="spacingAndGlyphs">22</text>
<text filter="url(#sharp)" x="483.2" y="175" font-size="12" text-anchor="middle" textLength="13.4" lengthAdjust="spacingAndGlyphs">04</text>
<text filter="url(#sharp)" x="525.5" y="175" font-size="12" text-anchor="middle" textLength="13.4" lengthAdjust="spacingAndGlyphs">10</text>
<text filter="url(#sharp)" x="567.7" y="175" font-size="12" text-anchor="middle" textLength="13.4" lengthAdjust="spacingAndGlyphs">16</text>
<text filter="url(#sharp)" x="609.9" y="175" font-size="12" text-anchor="middle" textLength="13.4" lengthAdjust="spacingAndGlyphs">22</text>
<text filter="url(#sharp)" x="652.2" y="175" font-size="12" text-anchor="middle" textLength="13.4" lengthAdjust="spacingAndGlyphs">04</text>
<text filter="url(#sharp)" x="694.4" y="175" font-size="12" text-anchor="middle" textLength="13.4" lengthAdjust="spacingAndGlyphs">10</text>
<text filter="url(#sharp)" x="736.7" y="175" font-size="12" text-anchor="middle" textLength="13.4" lengthAdjust="spacingAndGlyphs">16</text>
<text filter="url(#sharp)" x="338.5" y="205" font-size="11" text-anchor="end">5</text>
<text filter="url(#sharp)" x="338.5" y="230" font-size="11" text-anchor="end">0</text>
<text filter="url(#sharp)" x="338.5" y="255.5" font-size="11" text-anchor="end">-5</text>
<text filter="url(#sharp)" x="767" y="205" font-size="11">5</text>
<text filter="url(#sharp)" x="767" y="230" font-size="11">0</text>
<text filter="url(#sharp)" x="765" y="255.5" font-size="11">-5</text>
<text filter="url(#sharp)" x="338.5" y="271" font-size="11" text-anchor="end">5</text>
<text filter="url(#sharp)" x="338.5" y="285.5" font-size="11" text-anchor="end">4</text>
<text filter="url(#sharp)" x="338.5" y="300.5" font-size="11" text-anchor="end">3</text>
<text filter="url(#sharp)" x="338.5" y="315.5" font-size="11" text-anchor="end">2</text>
<text filter="url(#sharp)" x="338.5" y="330.5" font-size="11" text-anchor="end">1</text>
<text filter="url(#sharp)" x="338.5" y="345.5" font-size="11" text-anchor="end">0</text>
<text filter="url(#sharp)" x="761" y="271" font-size="11" fill="#ee5a10">100</text>
<text filter="url(#sharp)" x="761" y="286" font-size="11" fill="#ee5a10">90</text>
<text filter="url(#sharp)" x="761" y="301" font-size="11" fill="#ee5a10">80</text>
<text filter="url(#sharp)" x="761" y="316" font-size="11" fill="#ee5a10">70</text>
<text filter="url(#sharp)" x="761" y="331" font-size="11" fill="#ee5a10">60</text>
<text filter="url(#sharp)" x="761" y="346" font-size="11" fill="#ee5a10">50</text>
<text filter="url(#sharp)" x="338.5" y="371" font-size="11" text-anchor="end">1025</text>
<text filter="url(#sharp)" x="338.5" y="391.6" font-size="11" text-anchor="end">1020</text>
<text filter="url(#sharp)" x="338.5" y="412" font-size="11" text-anchor="end">1015</text>
<text filter="url(#sharp)" x="338.5" y="432" font-size="11" text-anchor="end">1010</text>
<text filter="url(#sharp)" x="761" y="371.4" font-size="11">769</text>
<text filter="url(#sharp)" x="761" y="392.4" font-size="11">765</text>
<text filter="url(#sharp)" x="761" y="412.6" font-size="11">761</text>
<text filter="url(#sharp)" x="761" y="433" font-size="11">758</text>
<text filter="url(#sharp)" x="338.5" y="444" font-size="11" text-anchor="end">15</text>
<text filter="url(#sharp)" x="338.5" y="468" font-size="11" text-anchor="end">10</text>
<text filter="url(#sharp)" x="338.5" y="493" font-size="11" text-anchor="end">5</text>
<text filter="url(#sharp)" x="338.5" y="518.6" font-size="11" text-anchor="end">0</text>
<text filter="url(#sharp)" x="761" y="443.2" font-size="11">54</text>
<text filter="url(#sharp)" x="761" y="468.5" font-size="11">36</text>
<text filter="url(#sharp)" x="761" y="493.7" font-size="11">18</text>
<text filter="url(#sharp)" x="764" y="519" font-size="11">0</text>
<text filter="url(#sharp)" x="338.5" y="562" font-size="11" text-anchor="end">15.0</text>
<text filter="url(#sharp)" x="338.5" y="582" font-size="11" text-anchor="end">7.0</text>
<text filter="url(#sharp)" x="338.5" y="601.4" font-size="11" text-anchor="end">2.0</text>
<text filter="url(#sharp)" x="338.5" y="620.6" font-size="11" text-anchor="end">0.5</text>
<text filter="url(#sharp)" x="338.5" y="640" font-size="11" text-anchor="end">0.0</text>
<text filter="url(#sharp)" x="338.5" y="649.4" font-size="11" text-anchor="end">8</text>
<text filter="url(#sharp)" x="761.7" y="562.4" font-size="11" fill="#ff8800">100</text>
<text filter="url(#sharp)" x="761.7" y="582" font-size="11" fill="#ff8800">20</text>
<text filter="url(#sharp)" x="761.7" y="600.5" font-size="11" fill="#ff8800">5</text>
<text filter="url(#sharp)" x="761.7" y="620.7" font-size="11" fill="#ff8800">1</text>
<text filter="url(#sharp)" x="761.7" y="639.8" font-size="11" fill="#ff8800">0</text>
<text filter="url(#sharp)" x="761.7" y="649.3" font-size="11" fill="#ff8800">1</text>
<text filter="url(#sharp)" transform="translate(293,216.5) rotate(-90)" x="0" y="0" font-size="12" fill="#000088" text-anchor="middle" textLength="66" lengthAdjust="spacingAndGlyphs">temperatura</text>
<text filter="url(#sharp)" transform="translate(306,215.3) rotate(-90)" x="0" y="0" font-size="12" fill="#000088" text-anchor="middle" textLength="19.5" lengthAdjust="spacingAndGlyphs">(°C)</text>
<text filter="url(#sharp)" transform="translate(293,306.5) rotate(-90)" x="0" y="0" font-size="12" fill="#000088" text-anchor="middle" textLength="24" lengthAdjust="spacingAndGlyphs">opad</text>
<text filter="url(#sharp)" transform="translate(306,304) rotate(-90)" x="0" y="0" font-size="12" fill="#000088" text-anchor="middle" textLength="86" lengthAdjust="spacingAndGlyphs">(mm/h, kg/m²/h)</text>
<text filter="url(#sharp)" transform="translate(293,392) rotate(-90)" x="0" y="0" font-size="12" fill="#000088" text-anchor="middle" textLength="50" lengthAdjust="spacingAndGlyphs">ciśnienie</text>
<text filter="url(#sharp)" transform="translate(306,393.3) rotate(-90)" x="0" y="0" font-size="12" fill="#000088" text-anchor="middle" textLength="25.4" lengthAdjust="spacingAndGlyphs">(hPa)</text>
<text filter="url(#sharp)" transform="translate(293,481) rotate(-90)" x="0" y="0" font-size="12" fill="#000088" text-anchor="middle" textLength="26" lengthAdjust="spacingAndGlyphs">wiatr</text>
<text filter="url(#sharp)" transform="translate(306,481) rotate(-90)" x="0" y="0" font-size="12" fill="#000088" text-anchor="middle" textLength="28" lengthAdjust="spacingAndGlyphs">(m/s)</text>
<text filter="url(#sharp)" transform="translate(293,542.6) rotate(-90)" x="0" y="0" font-size="12" fill="#000088" text-anchor="end" textLength="116.4" lengthAdjust="spacingAndGlyphs">e  pion. rozciągł. chm.</text>
<text filter="url(#sharp)" transform="translate(306,594) rotate(-90)" x="0" y="0" font-size="12" fill="#000088" text-anchor="middle" textLength="24" lengthAdjust="spacingAndGlyphs">(km)</text>
<text filter="url(#sharp)" transform="translate(816,216.3) rotate(-90)" x="0" y="0" font-size="12" fill="#000088" text-anchor="middle" textLength="67.4" lengthAdjust="spacingAndGlyphs">temperatura</text>
<text filter="url(#sharp)" transform="translate(803.5,217) rotate(-90)" x="0" y="0" font-size="12" fill="#000088" text-anchor="middle" textLength="21" lengthAdjust="spacingAndGlyphs">(°C)</text>
<text filter="url(#sharp)" transform="translate(816,305.3) rotate(-90)" x="0" y="0" font-size="12" fill="#000088" text-anchor="middle" textLength="89.4" lengthAdjust="spacingAndGlyphs">wilgotność wzgl.</text>
<text filter="url(#sharp)" transform="translate(803.5,304.9) rotate(-90)" x="0" y="0" font-size="12" fill="#000088" text-anchor="middle" textLength="18.3" lengthAdjust="spacingAndGlyphs">(%)</text>
<text filter="url(#sharp)" transform="translate(816,393) rotate(-90)" x="0" y="0" font-size="12" fill="#000088" text-anchor="middle" textLength="49" lengthAdjust="spacingAndGlyphs">ciśnienie</text>
<text filter="url(#sharp)" transform="translate(803.5,393) rotate(-90)" x="0" y="0" font-size="12" fill="#000088" text-anchor="middle" textLength="49" lengthAdjust="spacingAndGlyphs">(mm Hg)</text>
<text filter="url(#sharp)" transform="translate(816,480.4) rotate(-90)" x="0" y="0" font-size="12" fill="#000088" text-anchor="middle" textLength="26.7" lengthAdjust="spacingAndGlyphs">wiatr</text>
<text filter="url(#sharp)" transform="translate(803.5,481.9) rotate(-90)" x="0" y="0" font-size="12" fill="#000088" text-anchor="middle" textLength="32.3" lengthAdjust="spacingAndGlyphs">(km/h)</text>
<text filter="url(#sharp)" transform="translate(816,594) rotate(-90)" x="0" y="0" font-size="12" fill="#000088" text-anchor="middle" textLength="64.5" lengthAdjust="spacingAndGlyphs">widzialność</text>
<text filter="url(#sharp)" transform="translate(803.5,594) rotate(-90)" x="0" y="0" font-size="12" fill="#000088" text-anchor="middle" textLength="24" lengthAdjust="spacingAndGlyphs">(km)</text>
<text filter="url(#sharp)" x="295" y="531" font-size="11" fill="#000088">N</text>
<text filter="url(#sharp)" x="284" y="539" font-size="11" fill="#000088">W</text>
<text filter="url(#sharp)" x="301" y="540" font-size="11" fill="#000088">E</text>
<text filter="url(#sharp)" x="295" y="547" font-size="11" fill="#000088">S</text>
<text filter="url(#sharp)" x="804" y="531" font-size="11" fill="#000088">N</text>
<text filter="url(#sharp)" x="793" y="539" font-size="11" fill="#000088">W</text>
<text filter="url(#sharp)" x="810" y="540" font-size="11" fill="#000088">E</text>
<text filter="url(#sharp)" x="804" y="547" font-size="11" fill="#000088">S</text>
<defs>
<linearGradient id="bg" gradientUnits="userSpaceOnUse" x1="280" y1="0" x2="820" y2="0">
<stop offset="0" stop-color="#1c4fa7"/><stop offset="0.26" stop-color="#2153a9"/><stop offset="0.305" stop-color="#3063b3"/><stop offset="0.37" stop-color="#3a6fbb"/><stop offset="0.426" stop-color="#3468b6"/><stop offset="0.48" stop-color="#2457aa"/><stop offset="0.52" stop-color="#1f52a8"/><stop offset="0.74" stop-color="#2054aa"/><stop offset="1" stop-color="#1c4ea6"/>
</linearGradient>
<radialGradient id="glow" gradientUnits="userSpaceOnUse" cx="738" cy="40" r="62"><stop offset="0" stop-color="#2a5db0"/><stop offset="0.2" stop-color="#2c60b2"/><stop offset="0.5" stop-color="#3a6fbb"/><stop offset="0.75" stop-color="#2e62b2" stop-opacity="0.6"/><stop offset="1" stop-color="#2054aa" stop-opacity="0"/></radialGradient>
</defs>
<rect x="280" y="0" width="540" height="119.5" fill="url(#bg)" />
<ellipse cx="738" cy="40" rx="62" ry="62" fill="url(#glow)"/>
<text x="292.5" y="40" font-size="20.5" fill="#fff" textLength="157" lengthAdjust="spacingAndGlyphs">Oficjalna aplikacja</text>
<text x="292.5" y="67.3" font-size="20.5" fill="#fff" textLength="100" lengthAdjust="spacingAndGlyphs" font-weight="bold">Meteo ICM</text>
<text x="398.5" y="67.3" font-size="20.5" fill="#fff" textLength="104.2" lengthAdjust="spacingAndGlyphs">do pobrania</text>
<text x="292.5" y="95.3" font-size="20.5" fill="#fff" textLength="224.5" lengthAdjust="spacingAndGlyphs">w Google Play i App Store</text>
<defs><clipPath id="bnr"><rect x="280" y="0" width="540" height="119.5"/></clipPath><linearGradient id="scr1" x1="0" y1="0" x2="0" y2="1"><stop offset="0" stop-color="#14254d"/><stop offset="1" stop-color="#1f3a72"/></linearGradient><linearGradient id="map" x1="0" y1="0" x2="1" y2="1"><stop offset="0" stop-color="#707066"/><stop offset="0.5" stop-color="#4c4e46"/><stop offset="1" stop-color="#5c5a52"/></linearGradient></defs>
<g clip-path="url(#bnr)">
<rect x="552" y="4.5" width="56" height="125" rx="9" fill="#2b2d31"/>
<rect x="553.3" y="5.8" width="53.4" height="122" rx="8" fill="#0c0d10"/>
<rect x="554.5" y="7.3" width="51" height="53" rx="7" fill="url(#scr1)"/>
<rect x="554.5" y="58" width="51" height="70" fill="#0e1014"/>
<rect x="576" y="11" width="13.5" height="6" rx="3" fill="#000"/>
<rect x="560.5" y="19" width="36.5" height="11" rx="2" fill="#0b1530"/>
<circle cx="602" cy="27.5" r="3" fill="#0b1530"/>
<path d="M572,42 a3,3 0 0 1 6,-1 a2.5,2.5 0 0 1 2,4 h-8 a1.5,1.5 0 0 1 0,-3z" fill="none" stroke="#c8d4ea" stroke-width="0.8"/>
<text filter="url(#sharp)" x="582" y="45.5" font-size="8.5" fill="#e8eef8" textLength="11" lengthAdjust="spacingAndGlyphs">25°</text>
<rect x="570" y="51" width="8" height="4" fill="#2c4478"/><rect x="581" y="51" width="8" height="4" fill="#2c4478"/>
<rect x="561" y="63" width="9" height="22" rx="1.5" fill="#16181e"/><rect x="572" y="63" width="9" height="22" rx="1.5" fill="#16181e"/>
<rect x="561" y="89" width="40" height="9" rx="1.5" fill="#16181e"/><rect x="561" y="100" width="40" height="9" rx="1.5" fill="#16181e"/><rect x="561" y="111" width="40" height="9" rx="1.5" fill="#16181e"/>
<rect x="613.7" y="21.5" width="53.5" height="110" rx="9" fill="#2e2f31"/>
<rect x="615" y="22.8" width="51" height="108" rx="8" fill="#0d0d0e"/>
<rect x="616.3" y="24.3" width="48.5" height="105" rx="7" fill="url(#map)"/>
<path d="M636,70 q8,-6 14,4 q6,12 2,24 q-6,10 -12,4 q-6,-14 -4,-32z" fill="#a69e82" opacity="0.85"/>
<path d="M617,60 q10,4 14,18 q2,16 -8,26 h-6z" fill="#4a4c44" opacity="0.8"/>
<path d="M650,40 q8,10 14,6 v30 q-8,-4 -12,-14z" fill="#4e5048" opacity="0.7"/>
<rect x="630.5" y="27.3" width="14.5" height="5.4" rx="2.7" fill="#000"/>
<rect x="616.8" y="36.4" width="34.6" height="8.1" rx="1.5" fill="#ecece8"/>
<circle cx="656.5" cy="39" r="3.4" fill="#f0f0f0"/>
<rect x="584" y="48.2" width="55.5" height="80" rx="9" fill="#2c2d30"/>
<rect x="585.3" y="49.5" width="53" height="78" rx="8" fill="#0d0d0e"/>
<rect x="586.5" y="50.7" width="50.3" height="76" rx="7" fill="#fbfbfc"/>
<rect x="602.3" y="52.7" width="13.7" height="5.1" rx="2.5" fill="#000"/>
<rect x="587.7" y="61" width="36.3" height="7.2" rx="1.5" fill="#2a2b2e"/>
<circle cx="628.5" cy="64.6" r="3" fill="#2a2b2e"/>
<rect x="590" y="78" width="8" height="2" fill="#9bb0e0"/><rect x="626" y="76" width="8" height="2" fill="#9bb0e0"/>
<path d="M591,82 h42 M591,116 h42" stroke="#c0c4cc" stroke-width="0.6"/>
<rect x="591" y="86" width="42" height="8" fill="#4ea6d4"/>
<path d="M591,88 q10,-4 20,-2 t22,-2" stroke="#b0303a" fill="none" stroke-width="0.9"/>
<path d="M591,90 q10,-3 20,-1 t22,-2" stroke="#2840c0" fill="none" stroke-width="0.8"/>
<path d="M591,96 q3,8 7,6 q4,-6 8,-6 q5,1 8,6 q5,3 8,-2 q4,-4 11,-2" stroke="#e05a3a" fill="none" stroke-width="0.8"/>
<path d="M591,100 h42 M591,104 h42 M591,108 h42 M591,112 h42" stroke="#d6dae0" stroke-width="0.5"/>
<path d="M595,82 v36 M603,82 v36 M611,82 v36 M619,82 v36 M627,82 v36" stroke="#e0e3e8" stroke-width="0.4"/>
<path d="M608,104 l2,6 l2,-4 M614,105 l1,5" stroke="#40a040" stroke-width="1" fill="none"/>
</g>
<text x="709.5" y="96" font-size="20" fill="#fff" textLength="73.5" lengthAdjust="spacingAndGlyphs" font-weight="bold">icmmeteo</text>
<path d="M714.5,77 q-9,3 -13,11 q-4,9 2,13 q2,1 5,0" stroke="#fff" stroke-width="1.8" fill="none" stroke-linecap="round"/>
<rect x="787.6" y="81" width="20.5" height="20.3" rx="1.5" fill="#ffffff"/>
<text filter="url(#sharp)" x="791" y="96.2" font-size="11.6" fill="#1f50a8" textLength="9.2" lengthAdjust="spacingAndGlyphs" font-weight="bold">M</text>
<circle cx="803.5" cy="87.5" r="1.4" fill="none" stroke="#1f50a8" stroke-width="0.9"/>
</svg></body></html>
